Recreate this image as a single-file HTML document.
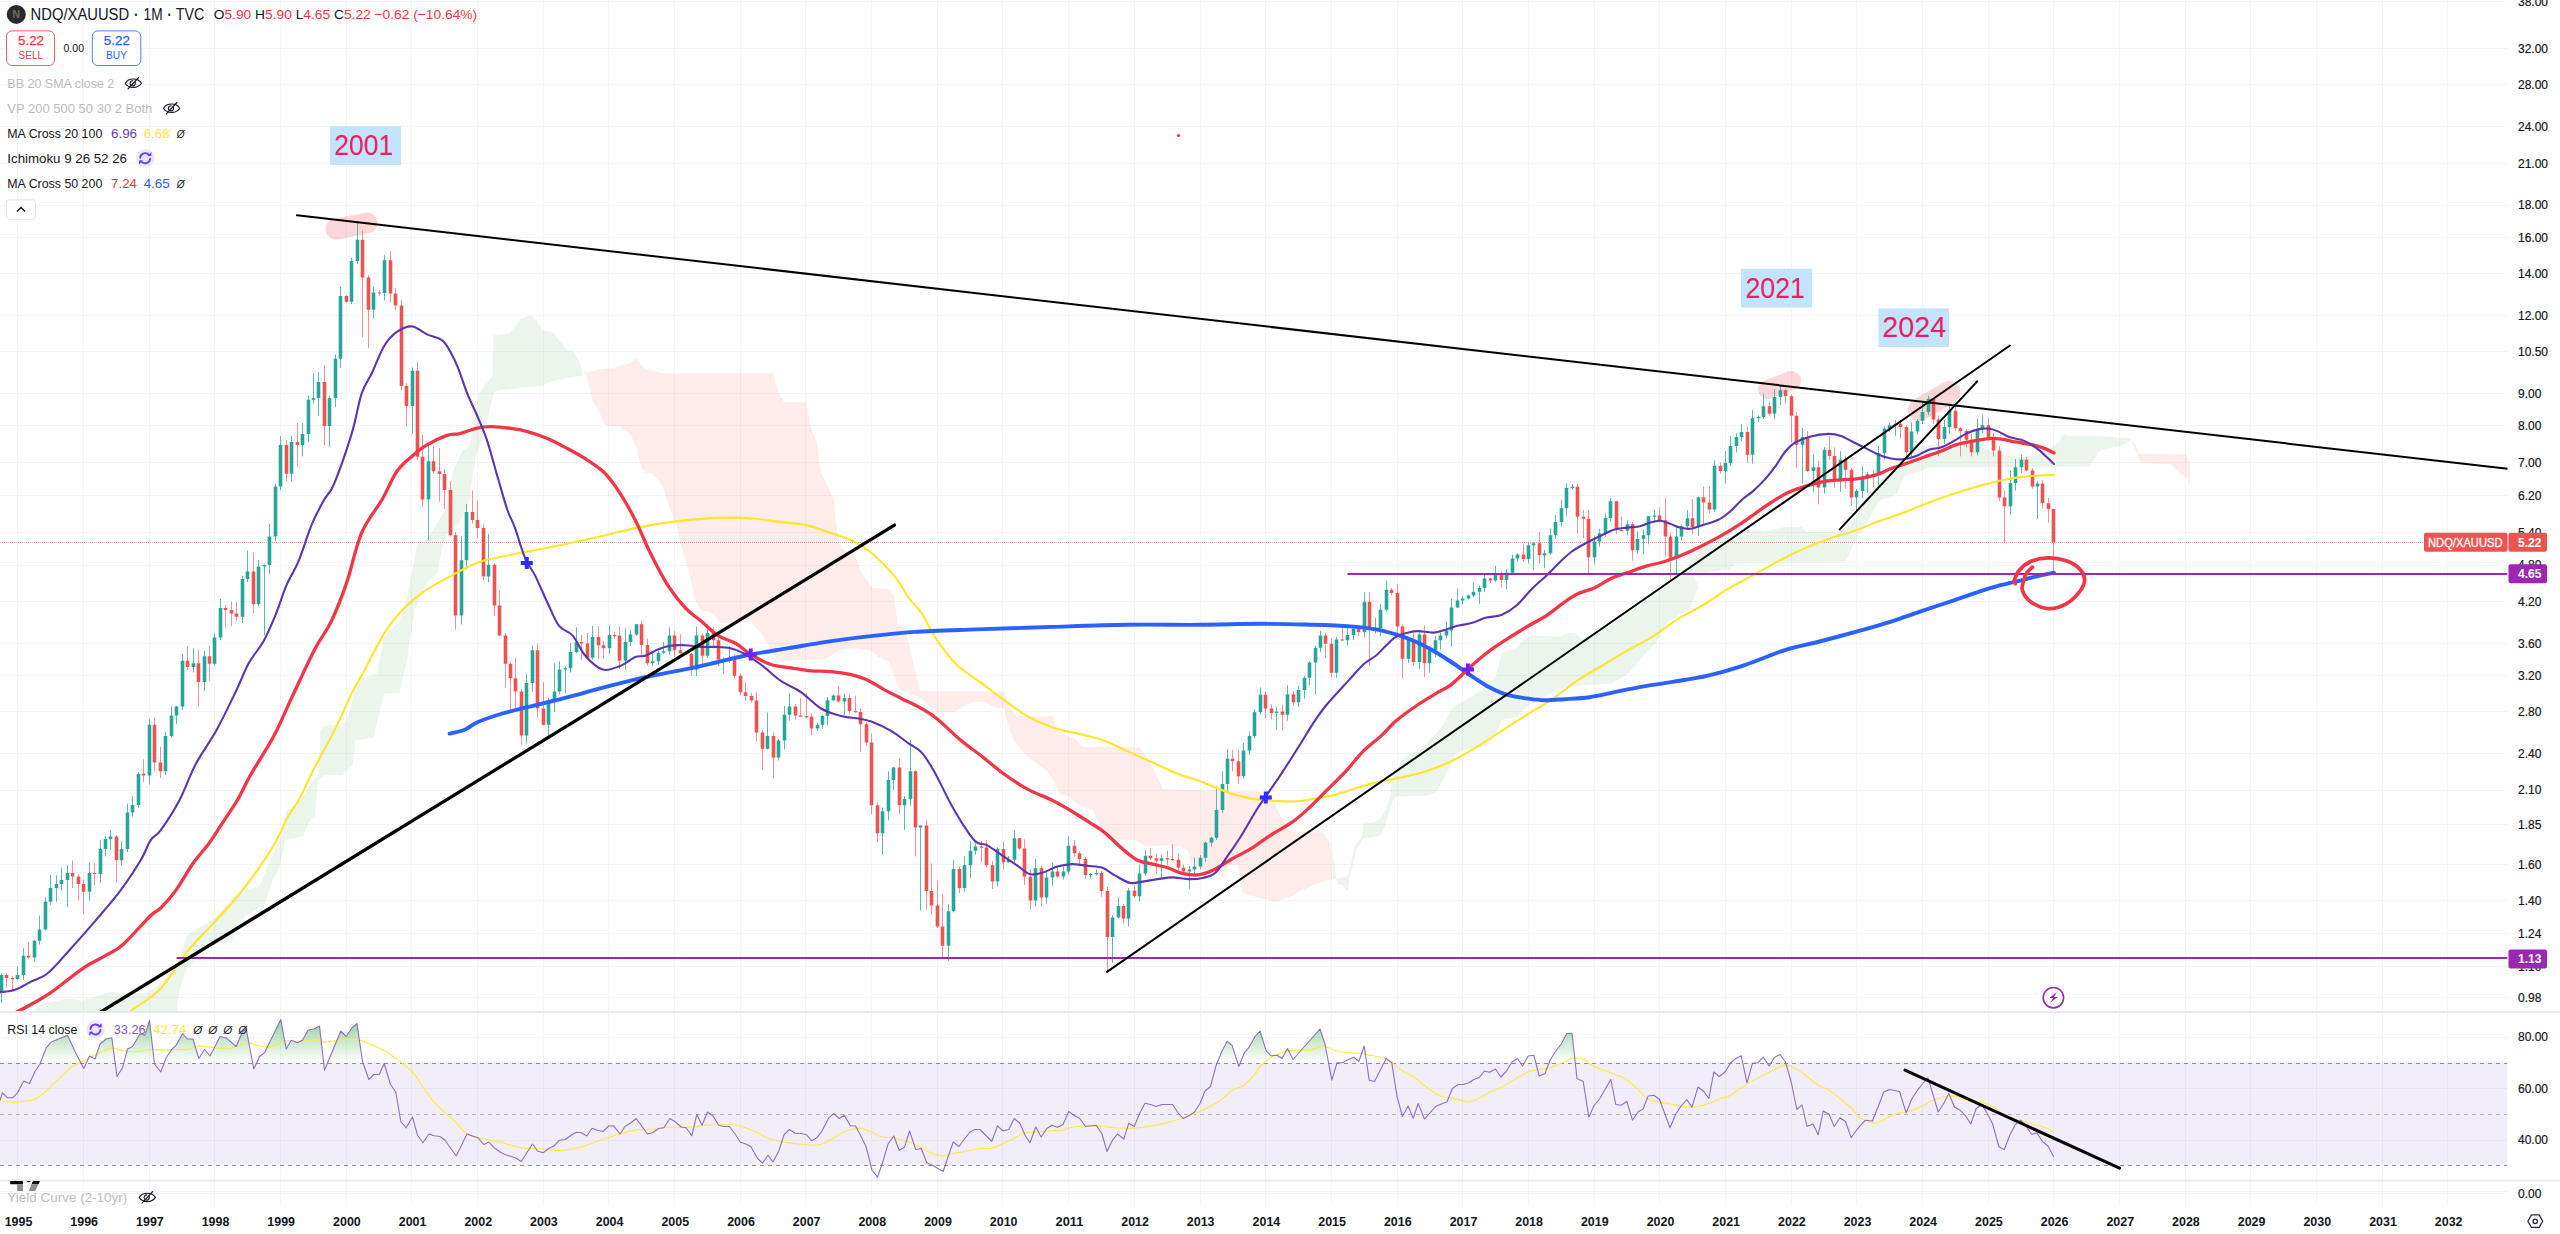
<!DOCTYPE html>
<html lang="en"><head><meta charset="utf-8"><title>NDQ/XAUUSD 1M chart</title>
<style>
html,body{margin:0;padding:0;background:#fff;}
body{width:2560px;height:1234px;overflow:hidden;position:relative;font-family:"Liberation Sans",sans-serif;}
svg{position:absolute;left:0;top:0;display:block;}
text{font-family:"Liberation Sans",sans-serif;}
.ax{font-size:12px;fill:#131722;stroke:#131722;stroke-width:0.2px;}
.tm{font-size:12.5px;fill:#131722;font-weight:bold;text-anchor:middle;}
.lg{font-size:13px;fill:#131722;}
.lgd{font-size:13px;fill:#b2b5be;}
</style></head><body>
<svg width="2560" height="1234" viewBox="0 0 2560 1234">
<defs>
<clipPath id="cpMain"><rect x="0" y="0" width="2507.5" height="1012.0"/></clipPath>
<clipPath id="cpRsi"><rect x="0" y="1012.0" width="2507.5" height="168.0"/></clipPath>
<clipPath id="cpOB"><rect x="0" y="1012.0" width="2507.5" height="50.7"/></clipPath>
<linearGradient id="gOB" gradientUnits="userSpaceOnUse" x1="0" y1="1012.0" x2="0" y2="1062.7"><stop offset="0" stop-color="#4caf50" stop-opacity="0.68"/><stop offset="1" stop-color="#4caf50" stop-opacity="0"/></linearGradient>
</defs>
<rect width="2560" height="1234" fill="#ffffff"/>
<path d="M17.5 0V1206M83.5 0V1206M149.5 0V1206M214.5 0V1206M280.5 0V1206M346.5 0V1206M411.5 0V1206M477.5 0V1206M543.5 0V1206M608.5 0V1206M674.5 0V1206M740.5 0V1206M805.5 0V1206M871.5 0V1206M937.5 0V1206M1002.5 0V1206M1068.5 0V1206M1134.5 0V1206M1200.5 0V1206M1265.5 0V1206M1331.5 0V1206M1397.5 0V1206M1462.5 0V1206M1528.5 0V1206M1594.5 0V1206M1659.5 0V1206M1725.5 0V1206M1791.5 0V1206M1856.5 0V1206M1922.5 0V1206M1988.5 0V1206M2053.5 0V1206M2119.5 0V1206M2185.5 0V1206M2250.5 0V1206M2316.5 0V1206M2382.5 0V1206M2447.5 0V1206M0 1.5H2507.5M0 48.5H2507.5M0 84.5H2507.5M0 126.5H2507.5M0 163.5H2507.5M0 205.5H2507.5M0 237.5H2507.5M0 273.5H2507.5M0 315.5H2507.5M0 351.5H2507.5M0 393.5H2507.5M0 425.5H2507.5M0 462.5H2507.5M0 495.5H2507.5M0 532.5H2507.5M0 565.5H2507.5M0 601.5H2507.5M0 643.5H2507.5M0 675.5H2507.5M0 711.5H2507.5M0 753.5H2507.5M0 790.5H2507.5M0 824.5H2507.5M0 864.5H2507.5M0 900.5H2507.5M0 933.5H2507.5M0 966.5H2507.5M0 997.5H2507.5M0 1037.5H2507.5M0 1088.5H2507.5M0 1140.5H2507.5M0 1191.5H2507.5M0 1193.5H2507.5" stroke="#f3f5f6" stroke-width="1" fill="none"/>
<g clip-path="url(#cpRsi)">
<rect x="0" y="1062.7" width="2507.5" height="102.6" fill="#7e57c2" fill-opacity="0.1"/>
<path d="M0 1063.5H2507.5" stroke="#787b86" stroke-opacity="0.85" stroke-width="1" stroke-dasharray="4 4" fill="none"/>
<path d="M0 1114.5H2507.5" stroke="#787b86" stroke-opacity="0.5" stroke-width="1" stroke-dasharray="4 4" fill="none"/>
<path d="M0 1165.5H2507.5" stroke="#787b86" stroke-opacity="0.85" stroke-width="1" stroke-dasharray="4 4" fill="none"/>
<path d="M0.0 1062.7L0.0 1100.2L2.5 1092.8L7.5 1097.8L12.5 1097.8L17.5 1092.8L23.8 1081.0L29.5 1083.5L35.0 1071.5L40.0 1064.0L46.2 1047.8L51.2 1042.0L67.5 1035.2L75.0 1051.5L83.8 1068.5L89.5 1056.0L95.0 1059.0L100.0 1044.0L106.2 1039.0L111.8 1037.8L117.0 1076.5L122.5 1067.8L127.5 1049.0L132.5 1046.5L140.0 1034.0L145.0 1035.2L149.5 1020.2L154.5 1064.0L160.8 1072.0L166.2 1057.8L171.2 1050.2L176.2 1045.2L182.5 1033.5L187.5 1039.0L193.0 1039.0L198.8 1058.5L204.5 1049.5L210.0 1056.0L215.0 1046.5L220.0 1036.5L226.2 1037.8L236.2 1046.5L242.5 1031.5L246.2 1029.0L253.8 1069.0L259.5 1056.5L264.5 1052.8L280.8 1019.5L286.2 1049.0L291.2 1040.2L297.5 1042.8L302.5 1040.2L308.0 1030.2L313.8 1029.0L319.5 1026.0L324.5 1070.2L340.8 1031.0L346.2 1036.5L352.0 1027.8L357.0 1023.5L362.5 1061.5L368.8 1079.5L373.8 1074.5L379.2 1074.5L384.2 1063.5L390.5 1084.5L395.8 1092.0L400.8 1121.5L406.2 1127.8L412.5 1117.0L417.5 1135.2L423.0 1142.8L428.8 1134.0L434.2 1135.8L440.0 1136.5L445.0 1140.2L456.2 1156.0L467.0 1134.0L472.5 1136.0L478.0 1137.8L483.8 1144.5L488.8 1142.0L494.2 1147.8L500.0 1152.0L505.0 1154.5L511.2 1156.5L516.2 1158.2L521.2 1161.5L532.5 1144.0L537.5 1151.0L543.0 1152.8L548.8 1148.5L553.8 1146.0L559.5 1140.2L565.0 1139.5L570.5 1135.8L576.2 1132.2L581.2 1132.8L586.8 1136.0L592.0 1128.2L597.5 1130.2L603.0 1131.5L608.8 1126.0L613.8 1125.8L620.0 1134.0L625.0 1126.5L630.0 1123.5L636.2 1118.5L647.5 1134.0L652.5 1132.8L658.8 1128.5L663.8 1127.8L670.0 1118.5L675.5 1122.0L681.2 1127.0L686.2 1127.8L691.8 1135.8L696.8 1114.5L702.0 1125.2L707.5 1112.0L713.0 1116.0L718.8 1125.2L723.8 1126.5L729.5 1126.5L735.0 1134.0L740.5 1142.2L745.8 1144.0L750.8 1146.5L757.5 1158.5L762.5 1163.2L768.0 1155.2L773.0 1162.0L778.8 1151.0L784.2 1134.5L789.5 1129.5L795.0 1133.2L800.5 1133.5L806.2 1134.5L811.8 1140.8L816.8 1137.8L822.0 1131.0L828.8 1117.8L833.8 1113.5L839.2 1118.5L844.2 1115.2L850.5 1125.8L855.5 1126.0L860.5 1135.2L866.2 1147.0L872.0 1170.2L877.5 1177.2L882.5 1162.8L888.0 1144.0L893.8 1136.0L899.2 1150.2L904.5 1147.2L909.5 1131.0L915.8 1149.5L921.2 1148.5L926.8 1162.8L932.5 1165.2L937.5 1168.2L943.2 1171.5L948.2 1156.5L953.2 1142.0L958.8 1146.5L964.5 1139.0L970.0 1132.0L975.0 1129.5L980.0 1129.5L991.8 1141.5L997.5 1125.8L1003.0 1131.0L1008.8 1129.5L1014.2 1118.5L1020.0 1123.5L1025.0 1135.2L1030.0 1142.8L1035.8 1127.0L1041.2 1137.0L1046.8 1128.5L1052.0 1125.2L1057.5 1127.2L1063.0 1124.5L1068.8 1111.5L1073.8 1115.2L1079.5 1118.2L1085.5 1126.5L1096.2 1125.2L1101.8 1133.5L1107.0 1151.5L1112.5 1140.2L1117.5 1134.0L1123.8 1139.0L1128.8 1123.2L1134.2 1126.5L1140.0 1112.8L1145.0 1103.2L1150.5 1104.5L1156.2 1106.5L1161.8 1104.5L1172.5 1104.5L1178.0 1112.8L1183.2 1118.5L1188.8 1115.8L1194.5 1112.0L1200.0 1103.5L1205.0 1091.0L1210.5 1086.5L1216.2 1065.2L1221.8 1051.5L1227.0 1041.5L1232.0 1045.2L1238.8 1066.5L1244.2 1053.2L1249.2 1047.0L1255.0 1036.5L1260.0 1031.0L1266.2 1050.8L1271.2 1055.8L1277.0 1055.2L1282.0 1058.5L1287.5 1048.5L1293.0 1059.5L1320.0 1029.0L1325.0 1044.0L1331.8 1080.2L1337.0 1062.8L1342.5 1062.8L1348.0 1059.8L1353.8 1057.2L1358.8 1061.5L1364.2 1046.0L1369.2 1080.2L1374.5 1081.5L1386.2 1058.5L1391.8 1062.8L1397.0 1096.5L1402.5 1116.5L1408.0 1106.0L1413.2 1118.2L1418.2 1103.5L1424.5 1119.0L1430.0 1112.8L1435.5 1106.5L1441.2 1104.0L1446.8 1102.0L1452.5 1088.5L1458.0 1084.5L1463.2 1084.5L1468.8 1082.8L1473.8 1079.5L1479.5 1077.2L1484.5 1071.0L1489.5 1072.2L1495.5 1069.0L1500.8 1077.0L1506.2 1071.5L1512.0 1062.0L1517.5 1058.5L1522.5 1066.0L1528.2 1056.0L1533.8 1055.2L1539.2 1076.0L1545.0 1073.5L1550.0 1060.2L1555.8 1051.0L1561.2 1044.0L1566.8 1033.5L1572.0 1033.2L1577.0 1078.5L1583.2 1081.5L1588.8 1117.2L1593.8 1106.0L1599.5 1099.0L1610.8 1079.5L1615.8 1104.5L1621.2 1105.2L1626.8 1101.5L1632.5 1120.2L1638.0 1112.0L1643.0 1109.0L1648.2 1096.0L1653.8 1095.2L1659.5 1099.5L1670.0 1127.8L1675.8 1114.0L1681.2 1106.0L1686.8 1099.5L1692.0 1107.2L1698.0 1087.0L1703.8 1091.5L1708.8 1098.5L1713.8 1072.0L1719.2 1076.5L1725.0 1072.0L1730.5 1063.2L1735.8 1058.5L1741.2 1055.8L1747.0 1082.8L1752.5 1063.2L1758.0 1062.8L1763.2 1057.0L1769.2 1066.0L1774.5 1057.2L1780.0 1054.5L1785.5 1062.0L1791.2 1082.0L1796.8 1109.5L1802.0 1104.8L1807.0 1126.5L1813.0 1124.0L1818.2 1134.8L1823.2 1111.0L1829.2 1114.5L1834.2 1126.5L1840.0 1117.8L1845.5 1121.5L1851.2 1137.8L1856.8 1129.8L1860.0 1125.8L1865.5 1120.2L1872.5 1121.0L1883.8 1092.0L1889.5 1089.5L1899.5 1091.5L1906.2 1112.8L1912.0 1098.5L1917.5 1090.2L1922.5 1084.0L1928.0 1077.8L1938.2 1112.0L1943.8 1103.2L1948.8 1093.5L1954.5 1107.0L1960.0 1110.2L1965.5 1115.8L1970.8 1124.0L1976.2 1108.5L1981.8 1104.5L1987.5 1114.0L1992.5 1123.5L1998.8 1146.5L2004.2 1149.8L2010.0 1134.8L2015.0 1125.2L2020.8 1120.2L2026.2 1126.5L2031.8 1134.5L2036.8 1132.8L2042.5 1141.5L2048.0 1146.0L2053.8 1157.0L2053.8 1062.7Z" fill="url(#gOB)" clip-path="url(#cpOB)"/>
<path d="M0.0 1100.2C1.2 1100.5 4.6 1101.7 7.5 1102.0C10.4 1102.3 14.6 1102.4 17.5 1102.2C20.4 1102.0 22.3 1101.4 25.0 1101.0C27.7 1100.6 30.5 1101.3 33.8 1099.8C37.1 1098.3 41.0 1095.3 45.0 1092.0C49.0 1088.7 52.9 1084.5 57.5 1080.2C62.1 1076.0 67.9 1069.8 72.5 1066.5C77.1 1063.2 80.4 1062.5 85.0 1060.2C89.6 1057.9 95.5 1054.8 100.0 1052.8C104.5 1050.8 107.6 1048.5 111.8 1048.2C116.0 1047.9 120.3 1050.5 125.0 1051.0C129.7 1051.5 135.8 1051.8 140.0 1051.5C144.2 1051.2 145.8 1049.7 150.0 1049.5C154.2 1049.3 160.8 1050.2 165.0 1050.2C169.2 1050.2 171.2 1049.6 175.0 1049.5C178.8 1049.4 183.8 1050.1 187.5 1049.5C191.2 1048.9 193.8 1046.4 197.5 1046.0C201.2 1045.6 205.2 1046.5 210.0 1047.0C214.8 1047.5 221.8 1049.1 226.2 1049.0C230.6 1048.9 232.6 1047.5 236.2 1046.5C239.8 1045.5 243.5 1042.9 247.5 1042.8C251.5 1042.7 256.2 1045.3 260.0 1046.0C263.8 1046.7 266.7 1047.4 270.0 1047.0C273.3 1046.6 276.5 1044.4 280.0 1043.5C283.5 1042.6 286.6 1042.0 291.2 1041.5C295.8 1041.0 302.9 1041.1 307.5 1040.8C312.1 1040.5 315.9 1039.6 318.8 1039.8C321.7 1040.0 321.3 1042.2 325.0 1042.2C328.7 1042.2 336.6 1040.3 340.8 1039.8C345.0 1039.3 346.8 1038.9 350.0 1039.0C353.2 1039.1 356.2 1039.2 360.0 1040.2C363.8 1041.2 368.3 1043.4 372.5 1045.2C376.7 1047.0 381.2 1048.9 385.0 1051.0C388.8 1053.1 390.4 1054.3 395.0 1057.8C399.6 1061.3 407.9 1067.2 412.5 1072.0C417.1 1076.8 419.2 1081.8 422.5 1086.5C425.8 1091.2 429.2 1096.2 432.5 1100.2C435.8 1104.2 438.8 1106.7 442.5 1110.2C446.2 1113.8 450.8 1117.5 455.0 1121.5C459.2 1125.5 462.7 1131.1 467.5 1134.0C472.3 1136.9 478.4 1137.6 483.8 1139.0C489.2 1140.4 493.8 1140.7 500.0 1142.2C506.2 1143.7 515.0 1146.8 521.2 1147.8C527.5 1148.8 532.1 1148.1 537.5 1148.5C542.9 1148.9 549.2 1149.9 553.8 1150.2C558.4 1150.5 560.2 1150.8 565.0 1150.2C569.8 1149.6 576.7 1148.2 582.5 1146.5C588.3 1144.8 593.8 1142.3 600.0 1140.2C606.2 1138.1 614.2 1135.7 620.0 1134.0C625.8 1132.3 629.6 1131.0 635.0 1130.2C640.4 1129.4 646.7 1129.5 652.5 1129.0C658.3 1128.5 663.5 1127.5 670.0 1127.2C676.5 1126.9 685.5 1127.3 691.8 1127.0C698.0 1126.7 701.2 1125.6 707.5 1125.2C713.8 1124.8 724.1 1124.4 729.5 1124.5C734.9 1124.6 735.8 1124.8 740.0 1126.0C744.2 1127.2 750.0 1129.3 755.0 1131.5C760.0 1133.7 765.1 1137.2 770.0 1139.0C774.9 1140.8 779.2 1141.4 784.2 1142.2C789.2 1143.0 795.4 1143.5 800.0 1144.0C804.6 1144.5 808.1 1145.2 811.8 1145.2C815.5 1145.2 819.0 1144.8 822.0 1144.0C825.0 1143.2 827.0 1141.9 830.0 1140.2C833.0 1138.5 836.7 1135.7 840.0 1134.0C843.3 1132.3 846.7 1130.8 850.0 1129.8C853.3 1128.8 856.7 1127.9 860.0 1128.2C863.3 1128.5 866.2 1130.0 870.0 1131.5C873.8 1133.0 878.5 1136.0 882.5 1137.0C886.5 1138.0 890.1 1137.1 893.8 1137.8C897.5 1138.5 900.8 1139.9 904.5 1141.0C908.2 1142.1 912.0 1142.8 915.8 1144.5C919.6 1146.2 923.9 1149.7 927.5 1151.5C931.1 1153.3 934.9 1154.5 937.5 1155.2C940.1 1156.0 940.6 1156.3 943.2 1156.0C945.8 1155.7 949.6 1154.2 953.2 1153.5C956.8 1152.8 960.5 1152.3 965.0 1151.5C969.5 1150.7 975.5 1149.0 980.0 1148.5C984.5 1148.0 987.0 1149.5 991.8 1148.2C996.6 1147.0 1003.3 1143.5 1008.8 1141.0C1014.3 1138.5 1019.6 1134.8 1025.0 1133.2C1030.4 1131.6 1034.9 1132.0 1041.2 1131.5C1047.5 1131.0 1058.4 1130.8 1063.0 1130.2C1067.6 1129.6 1065.0 1128.5 1068.8 1127.8C1072.5 1127.1 1080.0 1126.2 1085.5 1126.0C1091.0 1125.8 1096.5 1126.2 1101.8 1126.5C1107.1 1126.8 1112.1 1127.5 1117.5 1127.8C1122.9 1128.1 1127.8 1128.6 1134.2 1128.2C1140.7 1127.8 1149.8 1126.4 1156.2 1125.2C1162.6 1124.0 1167.1 1122.5 1172.5 1121.0C1177.9 1119.5 1183.4 1118.0 1188.8 1116.0C1194.2 1114.0 1199.8 1111.5 1205.0 1109.0C1210.2 1106.5 1215.5 1103.9 1220.0 1100.8C1224.5 1097.7 1228.0 1092.8 1232.0 1090.2C1236.0 1087.6 1240.4 1087.9 1244.2 1085.2C1248.0 1082.5 1252.4 1077.1 1255.0 1074.0C1257.6 1070.9 1257.3 1069.3 1260.0 1066.5C1262.7 1063.7 1267.5 1059.5 1271.2 1057.2C1274.9 1054.9 1279.3 1053.9 1282.0 1052.8C1284.7 1051.7 1284.9 1051.2 1287.5 1050.8C1290.1 1050.4 1293.8 1050.3 1297.5 1050.2C1301.2 1050.1 1306.2 1050.7 1310.0 1050.2C1313.8 1049.7 1317.5 1047.6 1320.0 1047.0C1322.5 1046.4 1321.7 1045.7 1325.0 1046.5C1328.3 1047.3 1334.4 1050.9 1340.0 1052.0C1345.6 1053.1 1353.9 1052.7 1358.8 1053.2C1363.7 1053.7 1364.6 1054.2 1369.2 1055.2C1373.8 1056.2 1380.7 1056.4 1386.2 1059.0C1391.8 1061.6 1398.0 1068.1 1402.5 1071.0C1407.0 1073.9 1409.5 1074.0 1413.2 1076.5C1417.0 1079.0 1420.5 1082.8 1425.0 1086.0C1429.5 1089.2 1435.4 1093.8 1440.0 1095.8C1444.6 1097.8 1447.7 1096.8 1452.5 1097.8C1457.3 1098.8 1464.2 1102.0 1468.8 1102.0C1473.4 1102.0 1476.5 1099.5 1480.0 1097.8C1483.5 1096.1 1486.5 1093.7 1490.0 1092.0C1493.5 1090.3 1497.1 1089.6 1500.8 1087.8C1504.5 1086.0 1507.4 1083.6 1512.0 1081.0C1516.6 1078.4 1523.7 1073.9 1528.2 1072.0C1532.7 1070.1 1535.6 1070.2 1539.2 1069.5C1542.8 1068.8 1546.3 1068.8 1550.0 1067.8C1553.7 1066.8 1557.5 1064.8 1561.2 1063.2C1564.9 1061.7 1568.3 1059.2 1572.0 1058.5C1575.7 1057.8 1579.6 1057.7 1583.2 1059.0C1586.8 1060.3 1589.2 1064.2 1593.8 1066.5C1598.4 1068.8 1605.6 1070.8 1610.8 1072.8C1616.0 1074.8 1620.5 1075.8 1625.0 1078.5C1629.5 1081.2 1633.6 1085.6 1637.5 1089.0C1641.4 1092.4 1644.5 1096.8 1648.2 1099.0C1652.0 1101.2 1655.4 1101.2 1660.0 1102.2C1664.6 1103.2 1670.8 1104.0 1675.8 1104.8C1680.8 1105.6 1685.3 1107.1 1690.0 1107.2C1694.7 1107.3 1698.9 1106.6 1703.8 1105.2C1708.7 1103.8 1714.8 1100.7 1719.2 1099.0C1723.7 1097.3 1726.8 1097.1 1730.5 1095.2C1734.2 1093.3 1736.6 1090.7 1741.2 1087.8C1745.8 1084.9 1752.5 1080.8 1758.0 1077.8C1763.5 1074.8 1769.9 1071.7 1774.5 1069.5C1779.1 1067.3 1781.8 1064.8 1785.5 1064.8C1789.2 1064.8 1793.2 1067.5 1796.8 1069.5C1800.4 1071.5 1803.4 1073.9 1807.0 1076.5C1810.6 1079.1 1814.5 1082.9 1818.2 1085.2C1821.9 1087.5 1825.6 1088.0 1829.2 1090.2C1832.8 1092.4 1836.3 1095.6 1840.0 1098.5C1843.7 1101.4 1847.9 1104.6 1851.2 1107.8C1854.5 1111.0 1856.9 1115.4 1860.0 1117.8C1863.1 1120.2 1867.1 1121.4 1870.0 1122.2C1872.9 1123.0 1873.3 1124.2 1877.5 1122.8C1881.7 1121.4 1890.2 1115.8 1895.0 1114.0C1899.8 1112.2 1901.6 1113.3 1906.2 1112.0C1910.8 1110.7 1918.1 1108.0 1922.5 1106.0C1926.9 1104.0 1928.1 1101.9 1932.5 1100.2C1936.9 1098.5 1944.2 1096.5 1948.8 1096.0C1953.4 1095.5 1956.3 1096.3 1960.0 1097.2C1963.7 1098.1 1967.2 1100.7 1970.8 1101.5C1974.4 1102.3 1978.2 1101.2 1981.8 1102.0C1985.4 1102.8 1988.8 1104.3 1992.5 1106.5C1996.2 1108.7 2000.5 1113.1 2004.2 1115.2C2008.0 1117.3 2011.3 1117.9 2015.0 1119.0C2018.7 1120.1 2022.6 1121.0 2026.2 1122.0C2029.8 1123.0 2033.2 1124.1 2036.8 1125.2C2040.4 1126.3 2045.2 1127.2 2048.0 1128.5C2050.8 1129.8 2052.8 1132.1 2053.8 1132.8" stroke="#ffe94a" stroke-width="1.2" fill="none" stroke-linejoin="round"/>
<path d="M0.0 1100.2L2.5 1092.8L7.5 1097.8L12.5 1097.8L17.5 1092.8L23.8 1081.0L29.5 1083.5L35.0 1071.5L40.0 1064.0L46.2 1047.8L51.2 1042.0L67.5 1035.2L75.0 1051.5L83.8 1068.5L89.5 1056.0L95.0 1059.0L100.0 1044.0L106.2 1039.0L111.8 1037.8L117.0 1076.5L122.5 1067.8L127.5 1049.0L132.5 1046.5L140.0 1034.0L145.0 1035.2L149.5 1020.2L154.5 1064.0L160.8 1072.0L166.2 1057.8L171.2 1050.2L176.2 1045.2L182.5 1033.5L187.5 1039.0L193.0 1039.0L198.8 1058.5L204.5 1049.5L210.0 1056.0L215.0 1046.5L220.0 1036.5L226.2 1037.8L236.2 1046.5L242.5 1031.5L246.2 1029.0L253.8 1069.0L259.5 1056.5L264.5 1052.8L280.8 1019.5L286.2 1049.0L291.2 1040.2L297.5 1042.8L302.5 1040.2L308.0 1030.2L313.8 1029.0L319.5 1026.0L324.5 1070.2L340.8 1031.0L346.2 1036.5L352.0 1027.8L357.0 1023.5L362.5 1061.5L368.8 1079.5L373.8 1074.5L379.2 1074.5L384.2 1063.5L390.5 1084.5L395.8 1092.0L400.8 1121.5L406.2 1127.8L412.5 1117.0L417.5 1135.2L423.0 1142.8L428.8 1134.0L434.2 1135.8L440.0 1136.5L445.0 1140.2L456.2 1156.0L467.0 1134.0L472.5 1136.0L478.0 1137.8L483.8 1144.5L488.8 1142.0L494.2 1147.8L500.0 1152.0L505.0 1154.5L511.2 1156.5L516.2 1158.2L521.2 1161.5L532.5 1144.0L537.5 1151.0L543.0 1152.8L548.8 1148.5L553.8 1146.0L559.5 1140.2L565.0 1139.5L570.5 1135.8L576.2 1132.2L581.2 1132.8L586.8 1136.0L592.0 1128.2L597.5 1130.2L603.0 1131.5L608.8 1126.0L613.8 1125.8L620.0 1134.0L625.0 1126.5L630.0 1123.5L636.2 1118.5L647.5 1134.0L652.5 1132.8L658.8 1128.5L663.8 1127.8L670.0 1118.5L675.5 1122.0L681.2 1127.0L686.2 1127.8L691.8 1135.8L696.8 1114.5L702.0 1125.2L707.5 1112.0L713.0 1116.0L718.8 1125.2L723.8 1126.5L729.5 1126.5L735.0 1134.0L740.5 1142.2L745.8 1144.0L750.8 1146.5L757.5 1158.5L762.5 1163.2L768.0 1155.2L773.0 1162.0L778.8 1151.0L784.2 1134.5L789.5 1129.5L795.0 1133.2L800.5 1133.5L806.2 1134.5L811.8 1140.8L816.8 1137.8L822.0 1131.0L828.8 1117.8L833.8 1113.5L839.2 1118.5L844.2 1115.2L850.5 1125.8L855.5 1126.0L860.5 1135.2L866.2 1147.0L872.0 1170.2L877.5 1177.2L882.5 1162.8L888.0 1144.0L893.8 1136.0L899.2 1150.2L904.5 1147.2L909.5 1131.0L915.8 1149.5L921.2 1148.5L926.8 1162.8L932.5 1165.2L937.5 1168.2L943.2 1171.5L948.2 1156.5L953.2 1142.0L958.8 1146.5L964.5 1139.0L970.0 1132.0L975.0 1129.5L980.0 1129.5L991.8 1141.5L997.5 1125.8L1003.0 1131.0L1008.8 1129.5L1014.2 1118.5L1020.0 1123.5L1025.0 1135.2L1030.0 1142.8L1035.8 1127.0L1041.2 1137.0L1046.8 1128.5L1052.0 1125.2L1057.5 1127.2L1063.0 1124.5L1068.8 1111.5L1073.8 1115.2L1079.5 1118.2L1085.5 1126.5L1096.2 1125.2L1101.8 1133.5L1107.0 1151.5L1112.5 1140.2L1117.5 1134.0L1123.8 1139.0L1128.8 1123.2L1134.2 1126.5L1140.0 1112.8L1145.0 1103.2L1150.5 1104.5L1156.2 1106.5L1161.8 1104.5L1172.5 1104.5L1178.0 1112.8L1183.2 1118.5L1188.8 1115.8L1194.5 1112.0L1200.0 1103.5L1205.0 1091.0L1210.5 1086.5L1216.2 1065.2L1221.8 1051.5L1227.0 1041.5L1232.0 1045.2L1238.8 1066.5L1244.2 1053.2L1249.2 1047.0L1255.0 1036.5L1260.0 1031.0L1266.2 1050.8L1271.2 1055.8L1277.0 1055.2L1282.0 1058.5L1287.5 1048.5L1293.0 1059.5L1320.0 1029.0L1325.0 1044.0L1331.8 1080.2L1337.0 1062.8L1342.5 1062.8L1348.0 1059.8L1353.8 1057.2L1358.8 1061.5L1364.2 1046.0L1369.2 1080.2L1374.5 1081.5L1386.2 1058.5L1391.8 1062.8L1397.0 1096.5L1402.5 1116.5L1408.0 1106.0L1413.2 1118.2L1418.2 1103.5L1424.5 1119.0L1430.0 1112.8L1435.5 1106.5L1441.2 1104.0L1446.8 1102.0L1452.5 1088.5L1458.0 1084.5L1463.2 1084.5L1468.8 1082.8L1473.8 1079.5L1479.5 1077.2L1484.5 1071.0L1489.5 1072.2L1495.5 1069.0L1500.8 1077.0L1506.2 1071.5L1512.0 1062.0L1517.5 1058.5L1522.5 1066.0L1528.2 1056.0L1533.8 1055.2L1539.2 1076.0L1545.0 1073.5L1550.0 1060.2L1555.8 1051.0L1561.2 1044.0L1566.8 1033.5L1572.0 1033.2L1577.0 1078.5L1583.2 1081.5L1588.8 1117.2L1593.8 1106.0L1599.5 1099.0L1610.8 1079.5L1615.8 1104.5L1621.2 1105.2L1626.8 1101.5L1632.5 1120.2L1638.0 1112.0L1643.0 1109.0L1648.2 1096.0L1653.8 1095.2L1659.5 1099.5L1670.0 1127.8L1675.8 1114.0L1681.2 1106.0L1686.8 1099.5L1692.0 1107.2L1698.0 1087.0L1703.8 1091.5L1708.8 1098.5L1713.8 1072.0L1719.2 1076.5L1725.0 1072.0L1730.5 1063.2L1735.8 1058.5L1741.2 1055.8L1747.0 1082.8L1752.5 1063.2L1758.0 1062.8L1763.2 1057.0L1769.2 1066.0L1774.5 1057.2L1780.0 1054.5L1785.5 1062.0L1791.2 1082.0L1796.8 1109.5L1802.0 1104.8L1807.0 1126.5L1813.0 1124.0L1818.2 1134.8L1823.2 1111.0L1829.2 1114.5L1834.2 1126.5L1840.0 1117.8L1845.5 1121.5L1851.2 1137.8L1856.8 1129.8L1860.0 1125.8L1865.5 1120.2L1872.5 1121.0L1883.8 1092.0L1889.5 1089.5L1899.5 1091.5L1906.2 1112.8L1912.0 1098.5L1917.5 1090.2L1922.5 1084.0L1928.0 1077.8L1938.2 1112.0L1943.8 1103.2L1948.8 1093.5L1954.5 1107.0L1960.0 1110.2L1965.5 1115.8L1970.8 1124.0L1976.2 1108.5L1981.8 1104.5L1987.5 1114.0L1992.5 1123.5L1998.8 1146.5L2004.2 1149.8L2010.0 1134.8L2015.0 1125.2L2020.8 1120.2L2026.2 1126.5L2031.8 1134.5L2036.8 1132.8L2042.5 1141.5L2048.0 1146.0L2053.8 1157.0" stroke="#7e57c2" stroke-opacity="0.85" stroke-width="1.1" fill="none" stroke-linejoin="round"/>
<path d="M1905 1070.2L2119.5 1168.2" stroke="#000" stroke-width="3.1" stroke-linecap="round"/>
</g>
<g clip-path="url(#cpMain)">
<path d="M32.4 1013.0L41.5 1003.4L51.9 1002.1L67.4 998.2L83.0 1000.8L98.5 995.6L111.5 991.8L124.5 993.0L145.2 993.0L155.6 987.9L168.6 974.9L178.9 959.3L186.7 936.0L202.3 925.6L215.2 917.8L233.4 897.1L246.4 889.3L259.3 886.7L269.7 860.8L280.1 840.0L285.3 811.5L298.2 803.7L311.2 783.0L319.0 772.6L320.3 731.1L324.2 725.9L344.9 723.3L350.1 710.4L354.2 690.9L361.7 678.3L376.8 673.3L384.3 636.9L399.4 620.6L406.9 598.0L412.0 572.8L417.0 545.2L427.0 538.9L442.1 515.1L449.6 500.0L452.1 473.8L462.2 451.2L469.7 446.2L474.8 421.0L478.5 393.4L492.3 375.8L493.6 335.6L509.9 333.1L520.0 319.3L530.0 315.0L535.0 318.1L542.6 330.6L552.6 331.9L567.7 350.7L572.7 350.7L580.3 363.3L582.8 375.8L582.8 375.8L572.7 377.1L552.6 380.9L540.1 385.9L527.5 387.2L502.4 389.7L493.6 392.2L488.6 416.0L482.3 441.1L477.3 451.2L472.2 476.3L469.7 500.0L459.7 522.6L444.6 537.7L437.1 572.8L427.0 582.9L414.5 610.5L406.9 660.8L399.4 693.4L384.3 693.4L378.6 715.6L373.4 737.6L355.3 740.2L352.7 764.8L342.3 775.2L324.2 775.2L317.7 780.4L315.1 816.7L308.6 821.9L303.4 836.2L285.3 840.0L280.1 866.0L272.3 881.5L264.5 904.9L246.4 915.2L236.0 928.2L230.8 942.5L207.5 943.8L197.1 959.3L186.7 967.1L178.9 993.0L176.3 1013.0Z" fill="#43a047" fill-opacity="0.1"/>
<path d="M582.8 373.3L602.9 368.8L615.1 368.3L620.1 365.8L630.1 363.3L636.4 358.2L641.4 365.8L646.5 369.6L652.8 370.3L661.5 373.3L773.3 373.3L778.3 392.2L784.1 402.2L806.5 402.2L811.0 428.6L816.5 441.1L821.0 472.5L833.6 498.9L837.4 532.7L841.1 547.7L856.2 557.8L861.2 572.8L872.5 587.9L888.9 589.2L893.9 595.5L897.7 624.3L905.2 628.1L909.0 645.7L920.3 690.9L1004.4 691.4L1008.2 706.0L1017.0 716.0L1052.1 716.5L1057.2 731.1L1074.8 738.6L1082.3 746.7L1140.1 747.4L1152.6 766.3L1162.7 788.9L1200.0 790.2L1257.8 791.4L1272.8 800.2L1285.4 825.4L1290.4 831.6L1323.1 832.4L1330.6 842.9L1331.9 879.4L1331.9 879.4L1325.6 880.6L1313.0 885.6L1300.5 890.7L1292.9 895.7L1275.4 902.0L1260.3 898.2L1242.7 893.2L1237.7 864.3L1227.6 865.5L1222.6 876.9L1202.9 869.1L1190.3 862.8L1187.8 850.2L1180.3 846.5L1167.7 845.2L1145.1 846.5L1135.0 840.2L1112.4 838.9L1102.4 832.7L1097.4 820.1L1092.3 808.8L1084.8 807.7L1077.3 804.0L1069.7 796.4L1059.7 793.9L1052.1 778.8L1047.1 771.3L1027.0 756.2L1014.5 741.1L1008.2 726.1L1004.4 708.5L994.4 707.2L984.3 702.2L974.3 701.5L964.2 706.0L954.2 712.3L936.6 712.3L921.5 698.4L898.9 688.4L888.9 662.0L878.8 657.0L871.3 650.7L853.7 648.2L841.1 649.5L826.1 658.8L806.0 660.0L778.3 660.8L765.8 640.7L760.8 633.1L750.7 621.8L720.6 623.1L710.5 611.8L700.5 610.5L695.5 600.5L687.9 567.8L680.4 542.7L677.9 530.1L666.6 500.0L664.1 490.1L659.0 481.3L652.8 473.8L645.2 472.5L641.4 467.5L636.4 447.4L630.1 433.6L623.9 430.6L620.1 426.6L608.8 426.1L603.8 423.6L600.0 413.5L592.8 401.0L586.5 375.8Z" fill="#f44336" fill-opacity="0.1"/>
<path d="M1331.5 842.9L1332.4 879.3L1335.9 879.3L1347.2 876.2L1351.0 864.3L1354.1 846.7L1362.3 836.6L1363.5 824.1L1373.6 822.2L1381.1 817.8L1386.1 809.0L1389.9 796.4L1392.4 780.1L1398.7 765.0L1402.5 760.0L1409.3 754.0L1421.6 749.4L1433.9 735.5L1443.2 724.7L1452.4 707.8L1461.6 701.7L1470.9 697.0L1483.2 689.3L1495.5 677.0L1501.7 652.4L1517.0 647.8L1523.2 640.1L1532.4 635.5L1560.1 636.4L1569.4 632.4L1575.5 633.3L1581.7 638.5L1600.0 632.0L1650.0 598.0L1683.3 574.0L1694.5 554.6L1704.2 544.8L1721.7 539.0L1756.7 529.3L1764.5 531.2L1784.0 527.3L1801.5 526.9L1807.3 532.2L1836.5 532.2L1842.3 529.3L1854.0 519.5L1863.7 500.1L1873.5 488.4L1885.1 476.7L1896.8 468.9L1912.4 451.4L1926.0 444.6L1939.6 445.6L1960.0 442.0L1975.0 445.0L1992.0 451.0L2000.6 455.0L2021.7 457.0L2038.6 454.4L2047.0 449.6L2053.8 445.7L2059.4 440.8L2064.3 434.3L2068.4 435.9L2088.6 435.9L2104.8 435.9L2121.0 438.0L2129.5 438.0L2131.4 440.1L2131.4 440.1L2122.9 445.3L2101.9 449.6L2097.6 453.8L2093.4 461.2L2087.1 466.4L1996.4 467.1L1928.9 467.5L1918.3 471.7L1903.6 475.9L1897.3 492.8L1888.8 498.1L1882.5 499.1L1876.2 505.5L1865.6 526.6L1857.2 537.1L1848.7 556.1L1844.5 562.8L1734.8 563.5L1730.6 568.7L1692.7 575.1L1698.7 586.2L1689.5 609.3L1667.9 621.6L1655.6 643.2L1643.3 655.5L1627.9 673.9L1612.5 683.2L1590.9 684.7L1563.2 687.8L1529.4 704.7L1517.0 717.0L1501.7 720.1L1495.5 735.5L1486.3 746.3L1464.7 749.4L1455.5 754.0L1451.5 763.8L1443.9 778.8L1436.4 791.4L1428.8 795.8L1396.2 796.4L1392.4 801.5L1389.9 810.3L1384.9 826.6L1379.8 836.0L1363.5 838.5L1356.0 850.5L1352.8 864.3L1349.1 880.6L1347.8 891.3L1342.2 885.0L1337.1 884.4Z" fill="#43a047" fill-opacity="0.1"/>
<path d="M2131.4 440.1L2135.6 445.3L2139.8 453.8L2186.2 454.4L2190.4 463.3L2190.4 486.5L2190.4 486.5L2186.2 477.0L2177.8 471.7L2171.5 464.3L2140.9 463.3L2137.7 454.8Z" fill="#f44336" fill-opacity="0.1"/>
<path d="M0 542.5H2507.5" stroke="#f23645" stroke-opacity="0.5" stroke-width="1" stroke-dasharray="1 1" fill="none"/>
<path d="M336 229L367 223" stroke="#f23645" stroke-opacity="0.2" stroke-width="21" stroke-linecap="round" fill="none"/>
<path d="M1767.5 389.5L1791.5 380.5" stroke="#f23645" stroke-opacity="0.2" stroke-width="19" stroke-linecap="round" fill="none"/>
<path d="M1919.5 409.5L1949 392.5" stroke="#f23645" stroke-opacity="0.2" stroke-width="23" stroke-linecap="round" fill="none"/>
<path d="M1.5 973.5V1003.0M17.5 966.6V979.9M23.5 948.2V979.8M34.5 940.1V961.6M39.5 915.6V944.5M45.5 897.4V930.3M50.5 875.1V904.8M56.5 875.1V901.8M61.5 867.4V890.8M67.5 865.2V907.3M89.5 861.9V900.7M100.5 840.0V883.0M105.5 835.6V856.4M110.5 830.2V850.3M121.5 841.2V865.5M127.5 803.6V852.1M132.5 796.3V816.7M138.5 772.4V807.8M149.5 719.1V784.5M165.5 731.8V775.1M171.5 706.2V737.2M176.5 705.8V724.1M182.5 653.6V710.0M193.5 648.4V672.3M204.5 651.0V691.1M214.5 633.6V665.3M220.5 599.0V640.1M242.5 576.1V623.3M247.5 550.6V582.1M258.5 560.2V606.0M264.5 564.2V635.4M269.5 523.9V574.0M275.5 483.6V540.8M280.5 435.9V490.2M291.5 435.8V481.7M302.5 422.8V456.5M308.5 395.4V442.2M313.5 373.3V403.7M318.5 372.0V416.0M329.5 395.4V446.9M335.5 354.5V407.0M340.5 287.0V367.8M351.5 257.8V304.2M357.5 222.0V264.2M373.5 286.6V318.8M384.5 254.8V300.5M412.5 367.5V433.9M428.5 444.8V540.3M461.5 535.8V624.5M466.5 503.9V569.3M488.5 533.9V582.1M526.5 673.9V743.2M532.5 645.6V691.9M548.5 698.0V736.7M554.5 662.8V712.1M559.5 661.5V694.2M565.5 666.5V693.2M570.5 643.0V672.6M576.5 627.3V653.5M592.5 626.0V659.6M609.5 625.2V654.2M625.5 628.3V669.8M630.5 629.5V646.4M636.5 623.9V635.9M652.5 651.2V665.7M658.5 650.6V664.6M663.5 642.1V653.9M669.5 627.4V654.6M696.5 626.7V676.0M707.5 624.1V657.5M723.5 657.4V674.0M729.5 646.0V663.0M767.5 712.6V749.4M778.5 739.0V760.5M784.5 706.1V749.6M789.5 693.2V720.7M817.5 722.8V730.8M822.5 715.2V728.6M827.5 697.4V725.0M833.5 694.4V700.7M844.5 693.8V715.2M882.5 807.5V854.8M888.5 771.1V820.3M893.5 766.8V789.9M904.5 796.0V829.8M910.5 740.0V805.9M920.5 825.3V910.5M948.5 904.3V960.8M953.5 860.1V912.5M964.5 856.3V891.6M970.5 841.0V878.1M975.5 843.4V854.7M997.5 847.4V886.4M1008.5 856.0V863.1M1014.5 830.1V862.6M1035.5 859.1V906.4M1046.5 872.5V903.6M1052.5 862.5V885.9M1063.5 866.8V879.6M1068.5 836.2V874.6M1090.5 872.7V878.2M1096.5 869.6V875.4M1112.5 915.4V962.8M1118.5 897.5V918.3M1128.5 888.0V926.7M1139.5 864.6V901.3M1145.5 850.2V875.1M1161.5 854.8V878.7M1189.5 866.0V888.8M1194.5 857.4V873.0M1200.5 855.1V869.3M1205.5 841.4V862.0M1211.5 836.6V846.5M1216.5 786.4V839.8M1222.5 771.3V813.1M1227.5 748.8V793.3M1243.5 742.7V778.8M1249.5 731.5V755.1M1254.5 709.1V738.3M1260.5 687.4V714.9M1276.5 707.1V729.9M1287.5 685.2V720.8M1298.5 685.7V707.1M1304.5 675.9V698.7M1309.5 661.4V685.4M1315.5 645.4V694.3M1320.5 630.9V652.1M1336.5 636.9V677.7M1347.5 624.3V645.6M1353.5 626.8V639.9M1364.5 592.5V637.2M1375.5 617.6V633.4M1380.5 603.8V636.4M1386.5 580.7V611.2M1408.5 638.7V662.8M1419.5 632.1V669.0M1429.5 646.2V672.9M1435.5 636.0V657.4M1440.5 632.2V649.5M1446.5 621.5V638.3M1451.5 598.8V646.2M1457.5 588.6V608.1M1462.5 596.4V604.3M1468.5 594.6V599.2M1473.5 582.6V597.0M1479.5 585.5V603.9M1484.5 574.9V591.7M1495.5 565.8V582.0M1506.5 569.5V589.1M1512.5 554.4V574.9M1517.5 553.2V561.6M1528.5 542.5V563.3M1533.5 541.8V570.4M1544.5 549.9V567.9M1550.5 528.4V554.2M1555.5 515.2V538.9M1561.5 500.2V526.6M1566.5 483.3V516.5M1572.5 484.1V489.6M1594.5 535.5V564.7M1599.5 528.9V546.8M1605.5 513.5V536.9M1610.5 498.4V521.6M1627.5 520.2V535.2M1637.5 531.5V553.7M1643.5 529.9V554.1M1648.5 516.0V544.2M1654.5 509.4V523.0M1676.5 527.4V575.0M1681.5 524.6V540.5M1687.5 510.2V528.3M1698.5 496.5V536.0M1714.5 460.4V512.1M1725.5 451.0V483.5M1730.5 435.9V466.0M1736.5 433.3V452.4M1741.5 424.2V441.1M1752.5 410.1V463.7M1758.5 415.6V421.7M1763.5 394.0V418.9M1774.5 389.3V419.3M1780.5 385.2V405.1M1802.5 427.7V483.5M1813.5 454.4V492.3M1824.5 446.9V493.5M1840.5 451.1V491.9M1856.5 488.9V510.8M1862.5 466.0V497.9M1867.5 471.6V492.7M1878.5 445.6V489.4M1884.5 426.4V459.4M1889.5 422.3V432.1M1895.5 419.9V435.9M1911.5 422.3V456.8M1917.5 419.1V434.6M1922.5 402.4V424.2M1928.5 395.5V415.2M1944.5 419.9V444.0M1949.5 405.3V434.2M1977.5 418.4V455.5M1982.5 415.1V433.0M2010.5 470.6V514.7M2015.5 459.0V490.6M2021.5 454.6V473.1M2037.5 481.2V519.0" stroke="#26a69a" stroke-opacity="0.75" stroke-width="1" fill="none"/>
<path d="M6.5 973.1V987.2M12.5 976.3V991.4M28.5 941.8V959.3M72.5 860.5V888.0M78.5 873.9V900.4M83.5 879.8V914.2M94.5 862.4V885.3M116.5 835.2V882.5M143.5 759.4V782.0M154.5 717.3V771.3M160.5 746.7V777.9M187.5 646.6V670.0M198.5 649.7V707.0M209.5 645.8V680.8M225.5 604.9V627.7M231.5 601.7V626.4M236.5 601.7V620.9M253.5 552.5V613.2M286.5 440.1V481.7M297.5 422.8V466.9M324.5 365.0V445.0M346.5 295.1V303.0M362.5 230.7V337.0M368.5 275.3V348.0M379.5 290.3V295.8M390.5 251.3V302.4M395.5 287.7V310.3M401.5 300.0V390.0M406.5 383.2V426.7M417.5 361.8V460.0M422.5 434.5V507.0M433.5 446.0V474.0M439.5 448.0V501.9M444.5 468.8V509.0M450.5 481.1V536.5M455.5 532.0V629.9M472.5 490.4V523.6M477.5 500.7V538.4M483.5 524.4V580.2M494.5 562.8V616.2M499.5 590.2V636.4M505.5 633.0V687.5M510.5 661.3V710.8M515.5 657.6V712.1M521.5 688.7V744.6M537.5 643.4V717.5M543.5 682.3V725.3M581.5 635.0V660.2M587.5 633.0V659.4M598.5 626.0V659.0M603.5 640.9V659.0M614.5 631.8V638.3M619.5 626.6V668.8M641.5 620.8V656.3M647.5 638.6V665.5M674.5 631.2V657.0M680.5 634.3V654.2M685.5 651.8V654.2M691.5 652.9V675.9M702.5 632.9V664.5M713.5 626.8V648.6M718.5 636.0V666.2M734.5 653.6V678.0M740.5 673.8V695.1M745.5 682.3V701.0M751.5 693.0V702.6M756.5 691.5V741.4M762.5 729.7V770.0M773.5 732.7V778.8M795.5 704.0V719.7M800.5 698.4V716.2M806.5 693.2V718.3M811.5 713.3V735.3M838.5 686.2V702.7M849.5 694.7V713.3M855.5 695.8V713.0M860.5 707.9V752.0M866.5 722.6V745.6M871.5 733.4V814.3M877.5 802.3V842.2M899.5 758.5V814.2M915.5 769.8V856.5M926.5 820.2V909.7M931.5 863.5V914.4M937.5 880.7V928.0M942.5 894.1V957.0M959.5 866.3V893.1M981.5 841.0V862.5M986.5 839.8V867.1M992.5 861.0V889.0M1003.5 841.4V869.4M1019.5 838.0V850.3M1024.5 839.5V885.1M1030.5 868.7V909.5M1041.5 866.3V906.5M1057.5 866.6V878.0M1074.5 840.0V856.8M1079.5 851.2V865.4M1085.5 856.8V878.3M1101.5 870.6V896.7M1107.5 887.0V970.8M1123.5 903.9V923.6M1134.5 885.4V898.0M1150.5 847.9V860.0M1156.5 854.1V873.8M1167.5 850.5V865.5M1172.5 844.2V860.6M1178.5 853.0V872.7M1183.5 864.6V874.8M1232.5 749.8V771.4M1238.5 749.8V783.9M1265.5 691.7V718.2M1271.5 704.2V719.5M1282.5 704.7V730.6M1293.5 690.8V705.6M1325.5 632.8V658.0M1331.5 638.4V677.5M1342.5 626.9V641.0M1358.5 627.6V635.9M1369.5 592.7V665.8M1391.5 588.2V595.3M1397.5 583.9V634.3M1402.5 624.6V678.3M1413.5 630.6V665.5M1424.5 625.4V677.3M1490.5 577.9V583.0M1501.5 571.5V587.3M1523.5 543.7V561.6M1539.5 532.1V564.0M1577.5 484.0V534.0M1583.5 510.0V538.0M1588.5 509.7V573.6M1616.5 500.9V533.9M1621.5 516.5V530.9M1632.5 521.9V560.6M1659.5 507.5V522.4M1665.5 498.1V556.5M1670.5 532.7V580.8M1692.5 499.1V534.1M1703.5 486.5V525.4M1709.5 486.5V513.3M1720.5 462.4V473.6M1747.5 426.9V463.1M1769.5 401.6V415.7M1785.5 388.7V403.8M1791.5 394.4V442.7M1796.5 411.8V468.0M1807.5 431.0V472.0M1818.5 460.5V504.4M1829.5 436.3V460.0M1834.5 447.5V488.1M1845.5 455.8V488.8M1851.5 468.0V506.0M1873.5 470.3V487.4M1900.5 420.5V438.8M1906.5 425.3V457.3M1933.5 398.7V424.1M1938.5 415.3V456.3M1955.5 403.2V430.6M1960.5 427.3V456.3M1966.5 429.6V447.4M1971.5 433.5V456.4M1988.5 418.4V440.9M1993.5 433.2V456.3M1999.5 446.1V500.8M2004.5 490.6V542.6M2026.5 456.7V471.4M2032.5 468.3V488.9M2042.5 480.2V508.4M2048.5 497.7V522.7M2053.5 508.9V573.7" stroke="#f23645" stroke-opacity="0.55" stroke-width="1" fill="none"/>
<path d="M-0.3 975.0h3.6V993.0h-3.6ZM15.7 975.0h3.6V979.0h-3.6ZM21.7 955.8h3.6V975.0h-3.6ZM32.7 940.7h3.6V957.5h-3.6ZM37.7 929.4h3.6V940.7h-3.6ZM43.7 901.8h3.6V929.4h-3.6ZM48.7 887.9h3.6V901.8h-3.6ZM54.7 884.0h3.6V887.9h-3.6ZM59.7 880.0h3.6V884.0h-3.6ZM65.7 872.9h3.6V880.0h-3.6ZM87.7 872.9h3.6V891.7h-3.6ZM98.7 849.0h3.6V874.0h-3.6ZM103.7 839.0h3.6V849.0h-3.6ZM108.7 836.4h3.6V839.0h-3.6ZM119.7 849.0h3.6V860.3h-3.6ZM125.7 812.6h3.6V849.0h-3.6ZM130.7 805.0h3.6V812.6h-3.6ZM136.7 773.8h3.6V805.0h-3.6ZM147.7 724.8h3.6V775.5h-3.6ZM163.7 736.1h3.6V771.3h-3.6ZM169.7 715.5h3.6V736.1h-3.6ZM174.7 706.5h3.6V715.5h-3.6ZM180.7 660.8h3.6V706.5h-3.6ZM191.7 663.3h3.6V667.0h-3.6ZM202.7 656.2h3.6V682.1h-3.6ZM212.7 637.6h3.6V663.8h-3.6ZM218.7 608.0h3.6V637.6h-3.6ZM240.7 579.1h3.6V616.8h-3.6ZM245.7 571.6h3.6V579.1h-3.6ZM256.7 566.6h3.6V604.2h-3.6ZM262.7 565.0h3.6V566.6h-3.6ZM267.7 536.4h3.6V565.0h-3.6ZM273.7 486.4h3.6V536.4h-3.6ZM278.7 444.9h3.6V486.4h-3.6ZM289.7 441.9h3.6V473.8h-3.6ZM300.7 434.1h3.6V444.9h-3.6ZM306.7 399.7h3.6V434.1h-3.6ZM311.7 398.0h3.6V399.7h-3.6ZM316.7 382.1h3.6V398.0h-3.6ZM327.7 398.0h3.6V426.1h-3.6ZM333.7 358.8h3.6V398.0h-3.6ZM338.7 296.0h3.6V358.8h-3.6ZM349.7 261.0h3.6V301.7h-3.6ZM355.7 239.7h3.6V261.0h-3.6ZM371.7 292.4h3.6V309.8h-3.6ZM382.7 260.3h3.6V293.0h-3.6ZM410.7 370.8h3.6V406.0h-3.6ZM426.7 461.2h3.6V499.4h-3.6ZM459.7 560.3h3.6V615.5h-3.6ZM464.7 512.0h3.6V560.3h-3.6ZM486.7 564.8h3.6V576.6h-3.6ZM524.7 682.9h3.6V735.6h-3.6ZM530.7 650.2h3.6V682.9h-3.6ZM546.7 701.0h3.6V724.8h-3.6ZM552.7 691.4h3.6V701.0h-3.6ZM557.7 669.6h3.6V691.4h-3.6ZM563.7 668.3h3.6V669.6h-3.6ZM568.7 652.0h3.6V668.3h-3.6ZM574.7 641.9h3.6V652.0h-3.6ZM590.7 636.9h3.6V657.7h-3.6ZM607.7 635.1h3.6V648.2h-3.6ZM623.7 641.9h3.6V660.8h-3.6ZM628.7 634.4h3.6V641.9h-3.6ZM634.7 624.3h3.6V634.4h-3.6ZM650.7 661.3h3.6V663.3h-3.6ZM656.7 652.7h3.6V661.3h-3.6ZM661.7 651.2h3.6V652.7h-3.6ZM667.7 635.6h3.6V651.2h-3.6ZM694.7 635.6h3.6V669.6h-3.6ZM705.7 633.1h3.6V655.7h-3.6ZM721.7 659.5h3.6V660.7h-3.6ZM727.7 657.7h3.6V659.5h-3.6ZM765.7 736.1h3.6V748.7h-3.6ZM776.7 740.6h3.6V757.5h-3.6ZM782.7 714.8h3.6V740.6h-3.6ZM787.7 706.5h3.6V714.8h-3.6ZM815.7 724.8h3.6V728.6h-3.6ZM820.7 716.0h3.6V724.8h-3.6ZM825.7 700.2h3.6V716.0h-3.6ZM831.7 695.4h3.6V700.2h-3.6ZM842.7 697.9h3.6V701.5h-3.6ZM880.7 811.3h3.6V833.2h-3.6ZM886.7 780.1h3.6V811.3h-3.6ZM891.7 767.5h3.6V780.1h-3.6ZM902.7 798.9h3.6V805.2h-3.6ZM908.7 771.3h3.6V798.9h-3.6ZM918.7 825.6h3.6V827.6h-3.6ZM946.7 911.3h3.6V945.7h-3.6ZM951.7 869.1h3.6V911.3h-3.6ZM962.7 865.3h3.6V887.9h-3.6ZM968.7 850.7h3.6V865.3h-3.6ZM973.7 846.5h3.6V850.7h-3.6ZM995.7 849.0h3.6V881.6h-3.6ZM1006.7 859.8h3.6V862.3h-3.6ZM1012.7 838.2h3.6V859.8h-3.6ZM1033.7 868.3h3.6V900.5h-3.6ZM1044.7 877.4h3.6V897.5h-3.6ZM1050.7 871.6h3.6V877.4h-3.6ZM1061.7 871.6h3.6V876.6h-3.6ZM1066.7 845.7h3.6V871.6h-3.6ZM1088.7 873.9h3.6V875.1h-3.6ZM1094.7 873.0h3.6V874.2h-3.6ZM1110.7 917.6h3.6V936.9h-3.6ZM1116.7 906.0h3.6V917.6h-3.6ZM1126.7 890.4h3.6V918.6h-3.6ZM1137.7 873.6h3.6V896.2h-3.6ZM1143.7 855.8h3.6V873.6h-3.6ZM1159.7 858.3h3.6V860.8h-3.6ZM1187.7 869.5h3.6V871.6h-3.6ZM1192.7 866.6h3.6V869.5h-3.6ZM1198.7 857.8h3.6V866.6h-3.6ZM1203.7 842.7h3.6V857.8h-3.6ZM1209.7 837.7h3.6V842.7h-3.6ZM1214.7 810.0h3.6V837.7h-3.6ZM1220.7 783.9h3.6V810.0h-3.6ZM1225.7 758.7h3.6V783.9h-3.6ZM1241.7 750.4h3.6V776.3h-3.6ZM1247.7 736.1h3.6V750.4h-3.6ZM1252.7 712.3h3.6V736.1h-3.6ZM1258.7 694.7h3.6V712.3h-3.6ZM1274.7 711.5h3.6V713.0h-3.6ZM1285.7 694.2h3.6V714.8h-3.6ZM1296.7 690.1h3.6V702.2h-3.6ZM1302.7 677.8h3.6V690.1h-3.6ZM1307.7 662.5h3.6V677.8h-3.6ZM1313.7 647.7h3.6V662.5h-3.6ZM1318.7 635.6h3.6V647.7h-3.6ZM1334.7 639.4h3.6V672.8h-3.6ZM1345.7 634.9h3.6V640.2h-3.6ZM1351.7 628.6h3.6V634.9h-3.6ZM1362.7 601.7h3.6V631.9h-3.6ZM1373.7 628.1h3.6V629.4h-3.6ZM1378.7 609.8h3.6V628.1h-3.6ZM1384.7 589.7h3.6V609.8h-3.6ZM1406.7 639.4h3.6V658.8h-3.6ZM1417.7 634.4h3.6V662.0h-3.6ZM1427.7 650.2h3.6V663.3h-3.6ZM1433.7 640.2h3.6V650.2h-3.6ZM1438.7 635.6h3.6V640.2h-3.6ZM1444.7 630.6h3.6V635.6h-3.6ZM1449.7 607.5h3.6V630.6h-3.6ZM1455.7 600.5h3.6V607.5h-3.6ZM1460.7 598.5h3.6V600.5h-3.6ZM1466.7 595.5h3.6V598.5h-3.6ZM1471.7 591.7h3.6V595.5h-3.6ZM1477.7 587.9h3.6V591.7h-3.6ZM1482.7 578.6h3.6V587.9h-3.6ZM1493.7 574.1h3.6V580.4h-3.6ZM1504.7 572.8h3.6V579.9h-3.6ZM1510.7 558.5h3.6V572.8h-3.6ZM1515.7 554.5h3.6V558.5h-3.6ZM1526.7 545.2h3.6V559.0h-3.6ZM1531.7 543.2h3.6V545.2h-3.6ZM1542.7 553.3h3.6V555.3h-3.6ZM1548.7 535.2h3.6V553.3h-3.6ZM1553.7 522.0h3.6V535.2h-3.6ZM1559.7 508.2h3.6V522.0h-3.6ZM1564.7 488.1h3.6V508.2h-3.6ZM1570.7 486.7h3.6V488.1h-3.6ZM1592.7 541.4h3.6V557.3h-3.6ZM1597.7 533.2h3.6V541.4h-3.6ZM1603.7 517.9h3.6V533.2h-3.6ZM1608.7 501.3h3.6V517.9h-3.6ZM1625.7 524.3h3.6V530.7h-3.6ZM1635.7 538.9h3.6V550.2h-3.6ZM1641.7 535.2h3.6V538.9h-3.6ZM1646.7 516.3h3.6V535.2h-3.6ZM1652.7 515.5h3.6V516.7h-3.6ZM1674.7 536.4h3.6V557.7h-3.6ZM1679.7 526.3h3.6V536.4h-3.6ZM1685.7 518.3h3.6V526.3h-3.6ZM1696.7 497.3h3.6V527.0h-3.6ZM1712.7 465.7h3.6V509.5h-3.6ZM1723.7 463.0h3.6V471.0h-3.6ZM1728.7 445.9h3.6V463.0h-3.6ZM1734.7 437.1h3.6V445.9h-3.6ZM1739.7 432.1h3.6V437.1h-3.6ZM1750.7 418.3h3.6V454.7h-3.6ZM1756.7 417.0h3.6V418.3h-3.6ZM1761.7 406.2h3.6V417.0h-3.6ZM1772.7 396.9h3.6V413.8h-3.6ZM1778.7 390.2h3.6V396.9h-3.6ZM1800.7 437.1h3.6V444.7h-3.6ZM1811.7 467.3h3.6V471.0h-3.6ZM1822.7 449.7h3.6V487.4h-3.6ZM1838.7 459.7h3.6V479.1h-3.6ZM1854.7 491.1h3.6V497.4h-3.6ZM1860.7 477.8h3.6V491.1h-3.6ZM1865.7 474.3h3.6V477.8h-3.6ZM1876.7 453.0h3.6V475.0h-3.6ZM1882.7 428.8h3.6V453.0h-3.6ZM1887.7 425.3h3.6V428.8h-3.6ZM1893.7 423.8h3.6V425.3h-3.6ZM1909.7 431.4h3.6V452.2h-3.6ZM1915.7 420.8h3.6V431.4h-3.6ZM1920.7 412.0h3.6V420.8h-3.6ZM1926.7 398.7h3.6V412.0h-3.6ZM1942.7 427.1h3.6V438.9h-3.6ZM1947.7 410.8h3.6V427.1h-3.6ZM1975.7 429.6h3.6V452.2h-3.6ZM1980.7 425.3h3.6V429.6h-3.6ZM2008.7 483.1h3.6V506.2h-3.6ZM2013.7 467.3h3.6V483.1h-3.6ZM2019.7 459.7h3.6V467.3h-3.6ZM2035.7 483.6h3.6V486.6h-3.6Z" fill="#26a69a"/>
<path d="M4.7 975.0h3.6V978.0h-3.6ZM10.7 978.0h3.6V979.2h-3.6ZM26.7 955.8h3.6V957.5h-3.6ZM70.7 872.9h3.6V876.6h-3.6ZM76.7 876.6h3.6V884.0h-3.6ZM81.7 884.0h3.6V891.7h-3.6ZM92.7 872.9h3.6V874.1h-3.6ZM114.7 836.4h3.6V860.3h-3.6ZM141.7 773.8h3.6V775.5h-3.6ZM152.7 724.8h3.6V762.5h-3.6ZM158.7 762.5h3.6V771.3h-3.6ZM185.7 660.8h3.6V667.0h-3.6ZM196.7 663.3h3.6V682.1h-3.6ZM207.7 656.2h3.6V663.8h-3.6ZM223.7 608.0h3.6V610.0h-3.6ZM229.7 610.0h3.6V613.5h-3.6ZM234.7 613.5h3.6V616.8h-3.6ZM251.7 571.6h3.6V604.2h-3.6ZM284.7 444.9h3.6V473.8h-3.6ZM295.7 441.9h3.6V444.9h-3.6ZM322.7 382.1h3.6V426.1h-3.6ZM344.7 296.0h3.6V301.7h-3.6ZM360.7 239.7h3.6V277.4h-3.6ZM366.7 277.4h3.6V309.8h-3.6ZM377.7 292.4h3.6V293.6h-3.6ZM388.7 260.3h3.6V293.4h-3.6ZM393.7 293.4h3.6V305.5h-3.6ZM399.7 305.5h3.6V385.9h-3.6ZM404.7 385.9h3.6V406.0h-3.6ZM415.7 370.8h3.6V456.7h-3.6ZM420.7 456.7h3.6V499.4h-3.6ZM431.7 461.2h3.6V471.3h-3.6ZM437.7 471.3h3.6V474.0h-3.6ZM442.7 474.0h3.6V490.1h-3.6ZM448.7 490.1h3.6V535.2h-3.6ZM453.7 535.2h3.6V615.5h-3.6ZM470.7 512.0h3.6V520.0h-3.6ZM475.7 520.0h3.6V528.0h-3.6ZM481.7 528.0h3.6V576.6h-3.6ZM492.7 564.8h3.6V605.5h-3.6ZM497.7 605.5h3.6V635.6h-3.6ZM503.7 635.6h3.6V663.8h-3.6ZM508.7 663.8h3.6V678.3h-3.6ZM513.7 678.3h3.6V691.4h-3.6ZM519.7 691.4h3.6V735.6h-3.6ZM535.7 650.2h3.6V708.5h-3.6ZM541.7 708.5h3.6V724.8h-3.6ZM579.7 641.9h3.6V643.5h-3.6ZM585.7 643.5h3.6V657.7h-3.6ZM596.7 636.9h3.6V645.2h-3.6ZM601.7 645.2h3.6V648.2h-3.6ZM612.7 635.1h3.6V636.3h-3.6ZM617.7 635.6h3.6V660.8h-3.6ZM639.7 624.3h3.6V644.9h-3.6ZM645.7 644.9h3.6V663.3h-3.6ZM672.7 635.6h3.6V650.2h-3.6ZM678.7 650.2h3.6V653.2h-3.6ZM683.7 653.2h3.6V654.4h-3.6ZM689.7 654.0h3.6V669.6h-3.6ZM700.7 635.6h3.6V655.7h-3.6ZM711.7 633.1h3.6V640.2h-3.6ZM716.7 640.2h3.6V659.5h-3.6ZM732.7 657.7h3.6V675.8h-3.6ZM738.7 675.8h3.6V692.2h-3.6ZM743.7 692.2h3.6V696.0h-3.6ZM749.7 696.0h3.6V700.5h-3.6ZM754.7 700.5h3.6V732.4h-3.6ZM760.7 732.4h3.6V748.7h-3.6ZM771.7 736.1h3.6V757.5h-3.6ZM793.7 706.5h3.6V715.5h-3.6ZM798.7 715.5h3.6V716.7h-3.6ZM804.7 716.0h3.6V717.2h-3.6ZM809.7 716.8h3.6V728.6h-3.6ZM836.7 695.4h3.6V701.5h-3.6ZM847.7 697.9h3.6V711.0h-3.6ZM853.7 711.0h3.6V712.2h-3.6ZM858.7 712.0h3.6V724.3h-3.6ZM864.7 724.3h3.6V742.4h-3.6ZM869.7 742.4h3.6V805.2h-3.6ZM875.7 805.2h3.6V833.2h-3.6ZM897.7 767.5h3.6V805.2h-3.6ZM913.7 771.3h3.6V827.6h-3.6ZM924.7 825.6h3.6V890.9h-3.6ZM929.7 890.9h3.6V905.5h-3.6ZM935.7 905.5h3.6V926.4h-3.6ZM940.7 926.4h3.6V945.7h-3.6ZM957.7 869.1h3.6V887.9h-3.6ZM979.7 846.5h3.6V847.7h-3.6ZM984.7 847.5h3.6V865.3h-3.6ZM990.7 865.3h3.6V881.6h-3.6ZM1001.7 849.0h3.6V862.3h-3.6ZM1017.7 838.2h3.6V848.5h-3.6ZM1022.7 848.5h3.6V876.6h-3.6ZM1028.7 876.6h3.6V900.5h-3.6ZM1039.7 868.3h3.6V897.5h-3.6ZM1055.7 871.6h3.6V876.6h-3.6ZM1072.7 845.7h3.6V853.3h-3.6ZM1077.7 853.3h3.6V859.0h-3.6ZM1083.7 859.0h3.6V874.9h-3.6ZM1099.7 873.0h3.6V890.9h-3.6ZM1105.7 890.9h3.6V936.9h-3.6ZM1121.7 906.0h3.6V918.6h-3.6ZM1132.7 890.4h3.6V896.2h-3.6ZM1148.7 855.8h3.6V858.3h-3.6ZM1154.7 858.3h3.6V860.8h-3.6ZM1165.7 858.3h3.6V859.5h-3.6ZM1170.7 859.0h3.6V860.2h-3.6ZM1176.7 859.8h3.6V867.8h-3.6ZM1181.7 867.8h3.6V871.6h-3.6ZM1230.7 758.7h3.6V761.2h-3.6ZM1236.7 761.2h3.6V776.3h-3.6ZM1263.7 694.7h3.6V708.5h-3.6ZM1269.7 708.5h3.6V713.0h-3.6ZM1280.7 711.5h3.6V714.8h-3.6ZM1291.7 694.2h3.6V702.2h-3.6ZM1323.7 635.6h3.6V643.7h-3.6ZM1329.7 643.7h3.6V672.8h-3.6ZM1340.7 639.4h3.6V640.6h-3.6ZM1356.7 628.6h3.6V631.9h-3.6ZM1367.7 601.7h3.6V629.4h-3.6ZM1389.7 589.7h3.6V592.9h-3.6ZM1395.7 592.9h3.6V626.4h-3.6ZM1400.7 626.4h3.6V658.8h-3.6ZM1411.7 639.4h3.6V662.0h-3.6ZM1422.7 634.4h3.6V663.3h-3.6ZM1488.7 578.6h3.6V580.4h-3.6ZM1499.7 574.1h3.6V579.9h-3.6ZM1521.7 554.5h3.6V559.0h-3.6ZM1537.7 543.2h3.6V555.3h-3.6ZM1575.7 486.7h3.6V516.8h-3.6ZM1581.7 516.8h3.6V518.7h-3.6ZM1586.7 518.7h3.6V557.3h-3.6ZM1614.7 501.3h3.6V530.0h-3.6ZM1619.7 530.0h3.6V531.2h-3.6ZM1630.7 524.3h3.6V550.2h-3.6ZM1657.7 515.5h3.6V520.2h-3.6ZM1663.7 520.2h3.6V536.4h-3.6ZM1668.7 536.4h3.6V557.7h-3.6ZM1690.7 518.3h3.6V527.0h-3.6ZM1701.7 497.3h3.6V502.4h-3.6ZM1707.7 502.4h3.6V509.5h-3.6ZM1718.7 465.7h3.6V471.0h-3.6ZM1745.7 432.1h3.6V454.7h-3.6ZM1767.7 406.2h3.6V413.8h-3.6ZM1783.7 390.2h3.6V396.2h-3.6ZM1789.7 396.2h3.6V415.8h-3.6ZM1794.7 415.8h3.6V444.7h-3.6ZM1805.7 437.1h3.6V471.0h-3.6ZM1816.7 467.3h3.6V487.4h-3.6ZM1827.7 449.7h3.6V456.0h-3.6ZM1832.7 456.0h3.6V479.1h-3.6ZM1843.7 459.7h3.6V469.8h-3.6ZM1849.7 469.8h3.6V497.4h-3.6ZM1871.7 474.3h3.6V475.5h-3.6ZM1898.7 423.8h3.6V427.1h-3.6ZM1904.7 427.1h3.6V452.2h-3.6ZM1931.7 398.7h3.6V419.6h-3.6ZM1936.7 419.6h3.6V438.9h-3.6ZM1953.7 410.8h3.6V428.3h-3.6ZM1958.7 428.3h3.6V430.9h-3.6ZM1964.7 430.9h3.6V439.7h-3.6ZM1969.7 439.7h3.6V452.2h-3.6ZM1986.7 425.3h3.6V437.1h-3.6ZM1991.7 437.1h3.6V450.5h-3.6ZM1997.7 450.5h3.6V497.4h-3.6ZM2002.7 497.4h3.6V506.2h-3.6ZM2024.7 459.7h3.6V470.5h-3.6ZM2030.7 470.5h3.6V486.6h-3.6ZM2040.7 483.6h3.6V503.2h-3.6ZM2046.7 503.2h3.6V508.9h-3.6ZM2051.7 508.9h3.6V542.2h-3.6Z" fill="#ef5350"/>
<path d="M120.6 1018.5C122.3 1017.2 123.9 1016.0 130.6 1011.0C137.3 1006.0 151.6 998.0 160.8 988.4C170.0 978.8 177.1 964.1 185.9 953.2C194.7 942.3 205.1 932.3 213.5 923.1C221.9 913.9 229.4 906.0 236.1 898.0C242.8 890.0 247.4 884.2 253.7 875.4C260.0 866.6 267.9 855.2 273.8 845.2C279.7 835.2 284.7 822.6 288.9 815.1C293.1 807.6 294.7 807.7 298.9 800.0C303.1 792.3 307.7 781.1 314.0 768.8C320.3 756.5 330.3 738.7 336.6 726.1C342.9 713.5 347.1 702.6 351.7 693.4C356.3 684.2 358.8 680.8 364.2 670.8C369.6 660.8 378.0 643.1 384.3 633.1C390.6 623.1 395.6 617.2 401.9 610.5C408.2 603.8 414.5 598.3 422.0 592.9C429.5 587.5 437.9 582.9 447.1 577.9C456.3 572.9 468.1 566.4 477.3 562.8C486.5 559.2 490.7 559.0 502.4 556.5C514.1 554.0 531.3 551.1 547.6 547.7C563.9 544.4 585.0 539.8 600.0 536.4C615.0 533.0 625.1 530.1 637.7 527.6C650.3 525.1 662.9 523.0 675.4 521.4C687.9 519.8 703.4 518.7 713.0 518.1C722.6 517.5 726.0 517.5 733.1 517.6C740.2 517.7 747.7 518.0 755.7 518.8C763.7 519.5 772.5 521.0 780.9 522.1C789.3 523.2 798.5 523.6 806.0 525.1C813.5 526.6 818.6 528.9 826.1 531.4C833.6 533.9 843.7 536.6 851.2 540.2C858.7 543.8 864.2 546.9 871.3 552.8C878.4 558.7 887.6 567.9 893.9 575.4C900.2 582.9 904.4 591.7 909.0 598.0C913.6 604.3 917.3 606.7 921.5 613.0C925.7 619.3 929.9 628.9 934.1 635.6C938.3 642.3 942.4 648.0 946.6 653.2C950.8 658.4 953.3 662.0 959.2 667.0C965.1 672.0 974.7 678.2 981.8 683.4C988.9 688.6 994.4 693.0 1001.9 698.4C1009.4 703.8 1018.6 711.2 1027.0 716.0C1035.4 720.8 1043.7 724.4 1052.1 727.3C1060.5 730.2 1068.9 731.5 1077.3 733.6C1085.7 735.7 1094.0 737.0 1102.4 739.9C1110.8 742.8 1119.1 747.4 1127.5 751.2C1135.9 755.0 1144.2 758.7 1152.6 762.5C1161.0 766.3 1169.8 770.7 1177.7 773.8C1185.6 776.9 1192.1 778.4 1200.0 781.3C1207.9 784.2 1216.7 788.5 1225.1 791.4C1233.5 794.2 1241.8 796.8 1250.2 798.4C1258.6 800.0 1267.9 800.4 1275.4 800.9C1283.0 801.4 1289.2 801.7 1295.5 801.4C1301.8 801.1 1305.9 800.1 1313.0 798.9C1320.1 797.6 1328.6 796.4 1338.2 793.9C1347.8 791.4 1360.3 786.5 1370.8 783.8C1381.3 781.1 1391.8 779.7 1401.0 777.6C1410.2 775.5 1417.7 774.0 1426.1 771.3C1434.5 768.6 1442.8 765.2 1451.2 761.2C1459.6 757.2 1467.9 752.4 1476.3 747.4C1484.7 742.4 1493.0 736.5 1501.4 731.1C1509.8 725.7 1518.2 720.0 1526.6 714.8C1535.0 709.6 1543.3 705.4 1551.7 699.7C1560.1 694.1 1568.4 686.5 1576.8 680.9C1585.2 675.2 1593.5 670.8 1601.9 665.8C1610.3 660.8 1618.6 655.5 1627.0 650.7C1635.4 645.9 1643.7 642.1 1652.1 636.9C1660.5 631.7 1668.9 624.5 1677.3 619.3C1685.7 614.1 1694.0 610.5 1702.4 605.5C1710.8 600.5 1719.1 594.2 1727.5 589.2C1735.9 584.2 1743.7 580.3 1752.6 575.4C1761.5 570.5 1772.2 564.4 1780.7 560.0C1789.2 555.6 1795.3 552.4 1803.3 548.9C1811.2 545.4 1820.0 541.8 1828.4 538.9C1836.8 536.0 1845.1 534.2 1853.5 531.3C1861.9 528.4 1870.2 524.4 1878.6 521.3C1887.0 518.2 1895.4 515.6 1903.8 512.5C1912.2 509.4 1920.5 505.5 1928.9 502.4C1937.3 499.3 1945.6 496.4 1954.0 493.7C1962.4 491.0 1970.7 488.4 1979.1 486.1C1987.5 483.8 1995.8 481.5 2004.2 479.8C2012.6 478.1 2021.0 476.9 2029.3 476.1C2037.6 475.3 2049.9 475.0 2054.0 474.8" stroke="#ffe629" stroke-width="2.1" fill="none" stroke-linecap="round"/>
<path d="M449.6 733.6C452.1 733.0 460.1 731.7 464.7 729.8C469.3 727.9 471.0 725.0 477.3 722.3C483.6 719.6 494.0 716.0 502.4 713.5C510.8 711.0 519.1 709.3 527.5 707.2C535.9 705.1 544.2 703.1 552.6 701.0C561.0 698.9 569.8 696.8 577.7 694.7C585.6 692.6 588.8 691.3 600.0 688.4C611.2 685.5 630.1 680.5 645.2 677.1C660.3 673.8 678.2 670.8 690.4 668.3C702.5 665.8 708.0 664.3 718.1 662.0C728.2 659.7 739.0 656.8 750.7 654.5C762.4 652.2 775.8 650.3 788.4 648.2C801.0 646.1 813.5 643.8 826.1 641.9C838.7 640.0 849.1 638.6 863.8 636.9C878.4 635.2 895.2 633.1 914.0 631.9C932.8 630.6 953.8 630.2 976.8 629.4C999.8 628.6 1027.0 627.7 1052.1 626.9C1077.2 626.1 1102.8 625.1 1127.5 624.8C1152.2 624.4 1177.5 625.0 1200.0 624.8C1222.5 624.6 1244.0 623.8 1262.8 623.8C1281.6 623.8 1298.3 624.4 1313.0 624.8C1327.7 625.2 1340.2 625.6 1350.7 626.4C1361.2 627.2 1368.3 628.1 1375.8 629.4C1383.3 630.7 1389.6 632.5 1395.9 634.4C1402.2 636.3 1407.6 638.2 1413.5 640.7C1419.4 643.2 1424.8 646.0 1431.1 649.5C1437.4 653.0 1444.5 657.6 1451.2 662.0C1457.9 666.4 1465.0 671.6 1471.3 675.8C1477.6 680.0 1483.0 684.0 1488.9 687.1C1494.8 690.2 1500.2 692.8 1506.5 694.7C1512.8 696.6 1520.3 697.5 1526.6 698.4C1532.9 699.3 1537.8 700.1 1544.1 700.2C1550.4 700.3 1556.7 699.7 1564.2 699.2C1571.7 698.7 1580.9 698.4 1589.3 697.2C1597.7 696.0 1606.1 693.9 1614.5 692.2C1622.9 690.5 1629.9 688.8 1639.6 687.1C1649.3 685.4 1661.3 683.8 1672.7 681.9C1684.1 680.0 1695.7 678.5 1707.8 675.6C1719.9 672.8 1732.5 669.1 1745.5 664.8C1758.5 660.5 1774.0 653.5 1785.7 649.8C1797.4 646.1 1803.2 645.7 1815.8 642.5C1828.3 639.3 1848.4 633.9 1861.0 630.4C1873.6 626.9 1882.0 624.5 1891.2 621.6C1900.4 618.7 1905.8 616.3 1916.3 612.8C1926.8 609.2 1941.4 604.5 1954.0 600.3C1966.6 596.1 1981.2 590.9 1991.7 587.7C2002.2 584.6 2009.3 583.3 2016.8 581.4C2024.3 579.5 2030.7 577.8 2036.9 576.4C2043.1 575.0 2051.2 573.3 2054.0 572.7" stroke="#2962ff" stroke-width="3.9" fill="none" stroke-linecap="round"/>
<path d="M8.8 1016.0C10.5 1015.2 12.3 1014.5 18.8 1011.0C25.3 1007.5 37.0 1001.8 47.7 994.7C58.4 987.6 73.3 974.8 82.9 968.3C92.5 961.8 98.8 959.7 105.5 955.7C112.2 951.7 115.6 951.1 123.1 944.4C130.6 937.7 144.4 921.6 150.7 915.5C157.0 909.4 156.6 912.2 160.8 908.0C165.0 903.8 170.4 897.9 175.8 890.4C181.2 882.9 188.0 870.5 193.4 862.8C198.8 855.1 203.9 850.3 208.5 844.0C213.1 837.7 216.2 832.4 221.0 825.1C225.8 817.8 232.4 808.5 237.4 800.0C242.4 791.5 245.1 784.4 251.2 773.8C257.3 763.1 267.1 748.7 273.8 736.1C280.5 723.5 284.7 712.6 291.4 698.4C298.1 684.2 307.3 663.7 314.0 650.7C320.7 637.7 326.2 631.9 331.6 620.6C337.0 609.3 341.6 597.5 346.6 582.9C351.6 568.2 355.8 546.5 361.7 532.7C367.6 518.9 375.9 510.2 381.8 500.0C387.7 489.8 391.9 478.6 396.9 471.3C401.9 464.0 407.0 460.6 412.0 456.2C417.0 451.8 421.1 448.4 427.0 444.9C432.9 441.4 441.7 437.3 447.1 435.4C452.6 433.5 454.7 434.8 459.7 433.6C464.7 432.4 471.9 429.3 477.3 428.1C482.7 426.9 486.5 426.5 492.3 426.6C498.1 426.7 506.5 427.8 512.4 428.6C518.3 429.4 521.6 429.9 527.5 431.6C533.4 433.3 540.9 435.8 547.6 438.6C554.3 441.5 561.4 445.4 567.7 448.7C574.0 452.0 579.4 454.9 585.3 458.7C591.2 462.5 597.9 466.7 602.9 471.3C607.9 475.9 611.2 480.5 615.4 486.4C619.6 492.3 624.3 500.1 628.0 506.5C631.7 513.0 634.0 517.4 637.7 525.1C641.4 532.8 645.2 542.8 650.2 552.8C655.2 562.8 661.9 576.2 667.8 585.4C673.7 594.6 679.9 602.1 685.4 608.0C690.9 613.9 695.0 616.0 700.5 620.6C706.0 625.2 712.2 631.8 718.1 635.6C724.0 639.4 730.2 640.1 735.6 643.2C741.0 646.4 744.8 651.0 750.7 654.5C756.6 658.0 764.1 662.3 770.8 664.5C777.5 666.7 784.2 666.8 790.9 667.8C797.6 668.8 804.3 670.2 811.0 670.8C817.7 671.4 824.4 671.0 831.1 671.6C837.8 672.2 845.3 673.3 851.2 674.6C857.1 675.9 860.4 676.9 866.3 679.6C872.2 682.3 880.5 687.8 886.4 690.9C892.2 694.0 895.5 695.5 901.4 698.4C907.2 701.3 915.6 705.1 921.5 708.5C927.4 711.9 929.9 713.1 936.6 718.5C943.3 723.9 954.2 734.8 961.7 741.1C969.2 747.4 975.1 751.0 981.8 756.2C988.5 761.4 994.4 767.0 1001.9 772.5C1009.4 778.0 1018.6 784.3 1027.0 788.9C1035.4 793.5 1045.0 796.7 1052.1 800.2C1059.2 803.7 1063.4 806.3 1069.7 810.0C1076.0 813.7 1083.9 818.8 1089.8 822.6C1095.7 826.4 1099.5 828.3 1104.9 832.7C1110.4 837.1 1117.0 844.4 1122.5 849.0C1128.0 853.6 1132.6 857.8 1137.6 860.3C1142.6 862.8 1147.6 862.9 1152.6 864.1C1157.6 865.4 1163.1 866.3 1167.7 867.8C1172.3 869.2 1175.3 871.6 1180.3 872.8C1185.3 874.0 1192.4 875.3 1197.8 874.9C1203.2 874.5 1207.1 873.0 1212.9 870.3C1218.7 867.6 1226.5 862.0 1232.7 858.5C1238.9 855.0 1243.9 853.1 1250.2 849.2C1256.5 845.4 1263.2 840.0 1270.3 835.4C1277.4 830.8 1286.2 826.4 1292.9 821.6C1299.6 816.8 1305.0 811.5 1310.5 806.5C1316.0 801.5 1319.7 797.3 1325.6 791.4C1331.5 785.5 1339.4 778.0 1345.7 771.3C1352.0 764.6 1357.4 757.1 1363.3 751.2C1369.2 745.3 1375.5 741.1 1380.9 736.1C1386.3 731.1 1390.1 726.0 1395.9 721.0C1401.8 716.0 1409.3 710.6 1416.0 706.0C1422.7 701.4 1430.2 697.0 1436.1 693.4C1442.0 689.8 1445.8 688.8 1451.2 684.6C1456.7 680.4 1462.9 673.5 1468.8 668.3C1474.7 663.1 1480.1 658.0 1486.4 653.2C1492.7 648.4 1499.8 643.8 1506.5 639.4C1513.2 635.0 1519.9 630.9 1526.6 626.9C1533.3 622.9 1540.8 619.3 1546.6 615.5C1552.4 611.7 1556.7 607.8 1561.7 604.2C1566.7 600.7 1571.3 596.9 1576.8 594.2C1582.2 591.5 1588.5 590.6 1594.4 587.9C1600.3 585.2 1606.6 580.4 1612.0 577.9C1617.4 575.4 1621.2 574.8 1627.0 572.8C1632.8 570.8 1640.8 567.7 1647.1 565.8C1653.4 563.9 1657.5 563.9 1664.7 561.5C1671.9 559.1 1681.8 555.2 1690.2 551.4C1698.7 547.6 1707.0 543.5 1715.4 538.9C1723.8 534.3 1732.1 529.2 1740.5 523.8C1748.9 518.3 1758.1 511.2 1765.6 506.2C1773.1 501.2 1779.0 497.0 1785.7 493.7C1792.4 490.4 1799.1 488.2 1805.8 486.1C1812.5 484.0 1820.0 482.2 1825.9 481.1C1831.8 480.1 1835.6 480.2 1841.0 479.8C1846.4 479.4 1852.7 479.4 1858.5 478.6C1864.3 477.8 1870.6 476.5 1876.1 474.8C1881.5 473.1 1886.2 470.4 1891.2 468.5C1896.2 466.6 1900.9 465.4 1906.3 463.5C1911.7 461.6 1917.9 459.3 1923.8 457.2C1929.7 455.1 1936.0 453.1 1941.4 451.0C1946.9 448.9 1951.0 446.4 1956.5 444.7C1962.0 443.0 1968.2 441.9 1974.1 440.9C1980.0 439.8 1986.7 438.6 1991.7 438.4C1996.7 438.2 2000.0 439.1 2004.2 439.7C2008.4 440.3 2012.2 441.4 2016.8 442.2C2021.4 443.0 2027.3 443.7 2031.9 444.7C2036.5 445.7 2040.7 447.0 2044.4 448.4C2048.1 449.8 2052.4 452.2 2054.0 453.0" stroke="#f23645" stroke-width="3.3" fill="none" stroke-linecap="round"/>
<path d="M0.0 992.2C2.5 991.8 10.1 991.4 15.1 989.7C20.1 988.0 24.7 984.8 30.1 982.1C35.5 979.4 41.4 978.3 47.7 973.3C54.0 968.3 59.8 960.8 67.8 952.0C75.8 943.2 86.7 930.9 95.5 920.6C104.3 910.3 113.1 900.5 120.6 890.4C128.1 880.3 135.7 868.7 140.7 860.3C145.7 851.9 147.3 845.2 150.7 840.2C154.0 835.2 156.0 836.8 160.8 830.1C165.6 823.4 173.8 811.0 179.6 800.0C185.4 789.0 189.8 775.3 195.9 763.8C202.0 752.3 209.3 743.2 216.0 731.1C222.7 719.0 230.7 702.2 236.1 690.9C241.5 679.6 244.1 671.7 248.7 663.3C253.3 654.9 259.2 649.1 263.8 640.7C268.4 632.3 272.5 622.2 276.3 613.0C280.1 603.8 282.6 594.2 286.4 585.4C290.2 576.6 294.7 570.3 298.9 560.3C303.1 550.2 307.3 535.1 311.5 525.1C315.7 515.1 320.2 506.9 324.0 500.0C327.8 493.1 329.5 494.9 334.1 483.8C338.7 472.7 347.1 448.7 351.7 433.6C356.3 418.5 358.3 403.4 361.7 393.4C365.1 383.3 368.0 381.2 371.8 373.3C375.6 365.4 380.1 352.6 384.3 345.7C388.5 338.8 392.3 335.1 396.9 331.9C401.5 328.7 407.0 326.0 412.0 326.4C417.0 326.8 422.6 332.4 427.0 334.4C431.4 336.4 435.2 336.5 438.3 338.2C441.4 339.9 442.8 339.8 445.9 344.4C449.0 349.0 453.6 357.6 457.2 365.8C460.8 374.0 463.8 385.0 467.2 393.4C470.6 401.8 473.9 408.1 477.3 416.0C480.7 423.9 484.0 431.1 487.3 441.1C490.6 451.2 494.0 464.8 497.4 476.3C500.8 487.8 504.5 501.4 507.4 510.0C510.3 518.5 512.0 519.6 514.9 527.6C517.8 535.6 521.6 549.8 525.0 557.8C528.4 565.8 531.2 567.9 535.0 575.4C538.8 582.9 543.6 594.6 547.6 603.0C551.6 611.4 554.7 620.2 558.9 625.6C563.1 631.0 568.3 630.6 572.7 635.6C577.1 640.6 580.3 650.0 585.3 655.7C590.3 661.4 597.0 667.9 602.9 669.6C608.8 671.3 615.0 667.9 620.4 665.8C625.8 663.7 631.1 658.7 635.2 657.0C639.3 655.3 641.4 657.0 645.2 655.7C649.0 654.5 653.6 651.2 657.8 649.5C662.0 647.8 665.7 646.4 670.3 645.7C674.9 645.0 680.4 645.0 685.4 645.2C690.4 645.4 695.5 646.6 700.5 646.9C705.5 647.2 710.5 646.7 715.5 646.9C720.5 647.1 726.0 647.2 730.6 648.2C735.2 649.2 738.2 650.5 743.2 653.2C748.2 655.9 754.5 659.9 760.8 664.5C767.1 669.1 774.2 676.3 780.9 680.9C787.6 685.5 794.3 687.6 801.0 692.2C807.7 696.8 814.3 704.5 821.0 708.5C827.7 712.5 834.8 714.3 841.1 716.0C847.4 717.7 853.7 717.6 858.7 718.5C863.7 719.4 865.8 719.5 871.3 721.6C876.8 723.7 885.1 727.4 891.4 731.1C897.7 734.8 904.0 740.2 909.0 743.7C914.0 747.2 917.3 747.8 921.5 752.4C925.7 757.0 928.6 761.7 934.1 771.3C939.6 780.9 947.5 798.5 954.2 810.0C960.9 821.5 968.9 834.3 974.3 840.2C979.7 846.1 982.2 842.7 986.8 845.2C991.4 847.7 996.9 851.9 1001.9 855.3C1006.9 858.6 1012.4 862.2 1017.0 865.3C1021.6 868.4 1025.3 872.9 1029.5 874.1C1033.7 875.4 1037.5 874.0 1042.1 872.8C1046.7 871.5 1052.2 868.0 1057.2 866.6C1062.2 865.2 1067.2 864.2 1072.2 864.1C1077.2 864.0 1082.3 865.2 1087.3 865.8C1092.3 866.4 1097.8 866.2 1102.4 867.8C1107.0 869.4 1110.3 872.9 1114.9 875.4C1119.5 877.9 1125.4 881.9 1130.0 882.9C1134.6 883.9 1138.0 882.2 1142.6 881.6C1147.2 881.0 1152.6 879.8 1157.6 879.1C1162.6 878.4 1167.7 877.4 1172.7 877.4C1177.7 877.4 1182.8 879.0 1187.8 879.1C1192.8 879.2 1198.3 879.0 1202.9 877.9C1207.5 876.8 1211.2 876.6 1215.4 872.8C1219.6 869.0 1223.9 861.1 1228.0 855.3C1232.1 849.4 1235.2 845.2 1240.0 837.7C1244.8 830.2 1252.2 816.9 1256.5 810.0C1260.8 803.1 1261.4 802.9 1265.8 796.4C1270.2 789.9 1277.1 780.1 1282.9 771.3C1288.7 762.5 1295.5 751.7 1300.5 743.7C1305.5 735.8 1308.8 729.9 1313.0 723.6C1317.2 717.3 1319.7 713.1 1325.6 706.0C1331.5 698.9 1341.9 687.8 1348.2 680.9C1354.5 674.0 1358.7 668.7 1363.3 664.5C1367.9 660.3 1372.0 658.8 1375.8 655.7C1379.6 652.6 1382.6 648.8 1385.9 645.7C1389.2 642.6 1392.1 639.1 1395.9 636.9C1399.7 634.7 1404.7 633.4 1408.5 632.4C1412.3 631.4 1414.3 631.1 1418.5 631.1C1422.7 631.1 1429.0 632.9 1433.6 632.6C1438.2 632.3 1442.0 630.6 1446.2 629.4C1450.4 628.2 1454.5 626.6 1458.7 625.6C1462.9 624.6 1466.7 624.4 1471.3 623.1C1475.9 621.8 1481.4 619.0 1486.4 617.6C1491.4 616.2 1496.4 617.0 1501.4 615.0C1506.4 613.0 1511.5 609.8 1516.5 605.5C1521.5 601.2 1526.6 594.2 1531.6 589.2C1536.6 584.2 1542.0 579.8 1546.6 575.4C1551.2 571.0 1555.0 566.8 1559.2 562.8C1563.4 558.8 1567.2 554.9 1571.8 551.5C1576.4 548.1 1581.8 545.4 1586.8 542.7C1591.8 540.0 1597.3 537.4 1601.9 535.2C1606.5 533.0 1610.3 530.9 1614.5 529.6C1618.7 528.3 1622.8 528.2 1627.0 527.6C1631.2 527.0 1636.2 527.1 1640.0 526.3C1643.8 525.4 1646.7 523.4 1650.0 522.5C1653.3 521.6 1656.8 520.6 1660.1 520.8C1663.4 521.0 1666.8 522.7 1670.1 523.8C1673.4 524.9 1676.8 526.8 1680.2 527.6C1683.6 528.4 1686.4 529.2 1690.2 528.8C1694.0 528.4 1698.2 526.6 1702.8 525.1C1707.4 523.6 1713.3 522.3 1717.9 520.0C1722.5 517.7 1726.2 514.8 1730.4 511.2C1734.6 507.6 1739.2 502.0 1743.0 498.7C1746.8 495.4 1749.2 494.5 1753.0 491.1C1756.8 487.8 1761.8 482.8 1765.6 478.6C1769.4 474.4 1772.2 470.6 1775.6 466.0C1778.9 461.4 1782.3 455.0 1785.7 451.0C1789.1 447.0 1791.5 444.6 1795.7 442.2C1799.9 439.8 1805.3 437.8 1810.8 436.4C1816.2 435.0 1823.4 434.0 1828.4 433.9C1833.4 433.8 1836.8 434.5 1841.0 435.9C1845.2 437.3 1849.3 440.1 1853.5 442.2C1857.7 444.3 1861.9 446.3 1866.1 448.4C1870.3 450.5 1874.4 453.0 1878.6 454.7C1882.8 456.4 1887.0 457.8 1891.2 458.5C1895.4 459.2 1899.6 459.6 1903.8 459.2C1908.0 458.8 1912.1 457.6 1916.3 456.0C1920.5 454.4 1924.7 451.2 1928.9 449.7C1933.1 448.2 1937.2 448.7 1941.4 447.2C1945.6 445.7 1949.8 443.2 1954.0 440.9C1958.2 438.6 1962.4 435.4 1966.6 433.4C1970.8 431.4 1975.3 429.9 1979.1 429.1C1982.9 428.3 1986.0 428.4 1989.2 428.8C1992.4 429.2 1994.7 430.0 1998.0 431.4C2001.3 432.8 2004.9 435.5 2009.3 437.1C2013.7 438.7 2019.7 439.0 2024.3 440.9C2028.9 442.8 2033.1 445.7 2036.9 448.4C2040.7 451.1 2044.1 454.6 2046.9 457.2C2049.8 459.8 2052.8 462.9 2054.0 464.0" stroke="#5e35b1" stroke-width="2.1" fill="none" stroke-linecap="round"/>
<path d="M520.8 563.0h12M526.8 557.0v12" stroke="#2d2dff" stroke-width="4" fill="none"/>
<path d="M744.7 654.5h12M750.7 648.5v12" stroke="#6b24ff" stroke-width="4" fill="none"/>
<path d="M1259.8 797.5h12M1265.8 791.5v12" stroke="#2d2dff" stroke-width="4" fill="none"/>
<path d="M1462.0 669.6h12M1468.0 663.6v12" stroke="#6b24ff" stroke-width="4" fill="none"/>
<path d="M1347.5 573.9H2507.5M176.6 958H2507.5" stroke="#9c27b0" stroke-width="2" fill="none"/>
<path d="M297 215.3L2507.6 468.8" stroke="#000" stroke-width="2" stroke-linecap="round" fill="none"/>
<path d="M86 1021L894.4 525.1" stroke="#000" stroke-width="3.3" stroke-linecap="round" fill="none"/>
<path d="M1107 971.9L2010 345.5" stroke="#000" stroke-width="2" stroke-linecap="round" fill="none"/>
<path d="M1839.7 529.4L1977.2 381.4" stroke="#000" stroke-width="2" stroke-linecap="round" fill="none"/>
<path d="M2032.5 567.2C2031.5 568.1 2028.3 570.6 2026.8 572.8C2025.3 575.0 2024.4 577.5 2023.7 580.4C2023.0 583.3 2021.2 586.8 2022.4 590.4C2023.6 594.0 2026.3 598.7 2030.6 601.7C2034.9 604.7 2042.3 608.2 2048.2 608.6C2054.1 609.0 2060.6 607.0 2065.8 604.2C2071.0 601.4 2076.5 595.7 2079.6 591.7C2082.7 587.7 2084.4 584.0 2084.6 580.4C2084.8 576.8 2083.5 573.4 2080.8 570.3C2078.1 567.1 2073.7 563.6 2068.3 561.5C2062.9 559.4 2054.5 557.8 2048.2 557.8C2041.9 557.8 2035.4 559.4 2030.6 561.5C2025.8 563.6 2022.0 567.1 2019.3 570.3C2016.6 573.4 2015.0 578.2 2014.3 580.4C2013.6 582.6 2015.1 583.0 2015.3 583.5" stroke="#f23645" stroke-width="3.7" stroke-linecap="round" stroke-linejoin="round" fill="none"/>
<circle cx="1178.5" cy="135.5" r="1.6" fill="#f23645"/>
<rect x="330.1" y="126.2" width="70.8" height="38.7" fill="#c3e3fb"/>
<text x="334.3" y="155.2" font-size="29.5" fill="#e91e63" textLength="59.0" lengthAdjust="spacingAndGlyphs">2001</text>
<rect x="1741.1" y="268.8" width="71.0" height="38.8" fill="#c3e3fb"/>
<text x="1745.4" y="297.8" font-size="29.5" fill="#e91e63" textLength="59.6" lengthAdjust="spacingAndGlyphs">2021</text>
<rect x="1878.4" y="308.4" width="70.6" height="38.6" fill="#c3e3fb"/>
<text x="1882.2" y="337.4" font-size="29.5" fill="#e91e63" textLength="64.0" lengthAdjust="spacingAndGlyphs">2024</text>
<circle cx="2053.4" cy="997.7" r="12.5" fill="#fff"/>
<circle cx="2053.4" cy="997.7" r="10.2" fill="#fff" stroke="#9c27b0" stroke-width="1.6"/>
<path d="M2056.9 992L2049.3 998.1L2053.2 998.1L2050.1 1002.8L2057.8 997L2054 997Z" fill="#9c27b0"/>
</g>
<path d="M0 1012H2560M0 1180.4H2560" stroke="#e6e9f0" stroke-width="2" fill="none"/>
<text class="ax" x="2518" y="6.0">38.00</text>
<text class="ax" x="2518" y="52.8">32.00</text>
<text class="ax" x="2518" y="89.1">28.00</text>
<text class="ax" x="2518" y="131.1">24.00</text>
<text class="ax" x="2518" y="167.5">21.00</text>
<text class="ax" x="2518" y="209.4">18.00</text>
<text class="ax" x="2518" y="241.5">16.00</text>
<text class="ax" x="2518" y="277.9">14.00</text>
<text class="ax" x="2518" y="319.8">12.00</text>
<text class="ax" x="2518" y="356.2">10.50</text>
<text class="ax" x="2518" y="398.2">9.00</text>
<text class="ax" x="2518" y="430.2">8.00</text>
<text class="ax" x="2518" y="466.6">7.00</text>
<text class="ax" x="2518" y="499.7">6.20</text>
<text class="ax" x="2518" y="537.3">5.40</text>
<text class="ax" x="2518" y="569.3">4.80</text>
<text class="ax" x="2518" y="605.7">4.20</text>
<text class="ax" x="2518" y="647.7">3.60</text>
<text class="ax" x="2518" y="679.7">3.20</text>
<text class="ax" x="2518" y="716.1">2.80</text>
<text class="ax" x="2518" y="758.1">2.40</text>
<text class="ax" x="2518" y="794.4">2.10</text>
<text class="ax" x="2518" y="829.0">1.85</text>
<text class="ax" x="2518" y="868.5">1.60</text>
<text class="ax" x="2518" y="904.9">1.40</text>
<text class="ax" x="2518" y="937.9">1.24</text>
<text class="ax" x="2518" y="970.5">1.10</text>
<text class="ax" x="2518" y="1002.0">0.98</text>
<text class="ax" x="2518" y="1041.3">80.00</text>
<text class="ax" x="2518" y="1092.7">60.00</text>
<text class="ax" x="2518" y="1144.0">40.00</text>
<text class="ax" x="2518" y="1198">0.00</text>
<rect x="2424.0" y="532.7" width="83.5" height="19" rx="2" fill="#ef5350"/>
<text x="2428.0" y="546.5" font-size="12" fill="#fff" stroke="#fff" stroke-width="0.3" textLength="74.5" lengthAdjust="spacingAndGlyphs">NDQ/XAUUSD</text>
<rect x="2508.5" y="532.7" width="38.5" height="19" rx="2" fill="#ef5350"/>
<text x="2518.0" y="546.5" font-size="12" font-weight="bold" fill="#fff">5.22</text>
<rect x="2508.5" y="564.2" width="38.5" height="19" rx="2" fill="#9c27b0"/>
<text x="2518.0" y="578.0" font-size="12" font-weight="bold" fill="#fff">4.65</text>
<rect x="2508.5" y="949.4" width="38.5" height="19" rx="2" fill="#9c27b0"/>
<text x="2518.0" y="963.2" font-size="12" font-weight="bold" fill="#fff">1.13</text>
<text class="tm" x="18.5" y="1226.3" textLength="27.7" lengthAdjust="spacingAndGlyphs">1995</text>
<text class="tm" x="84.2" y="1226.3" textLength="27.7" lengthAdjust="spacingAndGlyphs">1996</text>
<text class="tm" x="149.9" y="1226.3" textLength="27.7" lengthAdjust="spacingAndGlyphs">1997</text>
<text class="tm" x="215.5" y="1226.3" textLength="27.7" lengthAdjust="spacingAndGlyphs">1998</text>
<text class="tm" x="281.2" y="1226.3" textLength="27.7" lengthAdjust="spacingAndGlyphs">1999</text>
<text class="tm" x="346.9" y="1226.3" textLength="27.7" lengthAdjust="spacingAndGlyphs">2000</text>
<text class="tm" x="412.6" y="1226.3" textLength="27.7" lengthAdjust="spacingAndGlyphs">2001</text>
<text class="tm" x="478.3" y="1226.3" textLength="27.7" lengthAdjust="spacingAndGlyphs">2002</text>
<text class="tm" x="543.9" y="1226.3" textLength="27.7" lengthAdjust="spacingAndGlyphs">2003</text>
<text class="tm" x="609.6" y="1226.3" textLength="27.7" lengthAdjust="spacingAndGlyphs">2004</text>
<text class="tm" x="675.3" y="1226.3" textLength="27.7" lengthAdjust="spacingAndGlyphs">2005</text>
<text class="tm" x="741.0" y="1226.3" textLength="27.7" lengthAdjust="spacingAndGlyphs">2006</text>
<text class="tm" x="806.7" y="1226.3" textLength="27.7" lengthAdjust="spacingAndGlyphs">2007</text>
<text class="tm" x="872.3" y="1226.3" textLength="27.7" lengthAdjust="spacingAndGlyphs">2008</text>
<text class="tm" x="938.0" y="1226.3" textLength="27.7" lengthAdjust="spacingAndGlyphs">2009</text>
<text class="tm" x="1003.7" y="1226.3" textLength="27.7" lengthAdjust="spacingAndGlyphs">2010</text>
<text class="tm" x="1069.4" y="1226.3" textLength="27.7" lengthAdjust="spacingAndGlyphs">2011</text>
<text class="tm" x="1135.1" y="1226.3" textLength="27.7" lengthAdjust="spacingAndGlyphs">2012</text>
<text class="tm" x="1200.7" y="1226.3" textLength="27.7" lengthAdjust="spacingAndGlyphs">2013</text>
<text class="tm" x="1266.4" y="1226.3" textLength="27.7" lengthAdjust="spacingAndGlyphs">2014</text>
<text class="tm" x="1332.1" y="1226.3" textLength="27.7" lengthAdjust="spacingAndGlyphs">2015</text>
<text class="tm" x="1397.8" y="1226.3" textLength="27.7" lengthAdjust="spacingAndGlyphs">2016</text>
<text class="tm" x="1463.5" y="1226.3" textLength="27.7" lengthAdjust="spacingAndGlyphs">2017</text>
<text class="tm" x="1529.1" y="1226.3" textLength="27.7" lengthAdjust="spacingAndGlyphs">2018</text>
<text class="tm" x="1594.8" y="1226.3" textLength="27.7" lengthAdjust="spacingAndGlyphs">2019</text>
<text class="tm" x="1660.5" y="1226.3" textLength="27.7" lengthAdjust="spacingAndGlyphs">2020</text>
<text class="tm" x="1726.2" y="1226.3" textLength="27.7" lengthAdjust="spacingAndGlyphs">2021</text>
<text class="tm" x="1791.9" y="1226.3" textLength="27.7" lengthAdjust="spacingAndGlyphs">2022</text>
<text class="tm" x="1857.5" y="1226.3" textLength="27.7" lengthAdjust="spacingAndGlyphs">2023</text>
<text class="tm" x="1923.2" y="1226.3" textLength="27.7" lengthAdjust="spacingAndGlyphs">2024</text>
<text class="tm" x="1988.9" y="1226.3" textLength="27.7" lengthAdjust="spacingAndGlyphs">2025</text>
<text class="tm" x="2054.6" y="1226.3" textLength="27.7" lengthAdjust="spacingAndGlyphs">2026</text>
<text class="tm" x="2120.3" y="1226.3" textLength="27.7" lengthAdjust="spacingAndGlyphs">2027</text>
<text class="tm" x="2185.9" y="1226.3" textLength="27.7" lengthAdjust="spacingAndGlyphs">2028</text>
<text class="tm" x="2251.6" y="1226.3" textLength="27.7" lengthAdjust="spacingAndGlyphs">2029</text>
<text class="tm" x="2317.3" y="1226.3" textLength="27.7" lengthAdjust="spacingAndGlyphs">2030</text>
<text class="tm" x="2383.0" y="1226.3" textLength="27.7" lengthAdjust="spacingAndGlyphs">2031</text>
<text class="tm" x="2448.7" y="1226.3" textLength="27.7" lengthAdjust="spacingAndGlyphs">2032</text>
<path d="M2527.9 1221.2L2531.4 1214.9H2539.2L2542.7 1221.2L2539.2 1227.4H2531.4Z" fill="none" stroke="#2a2e39" stroke-width="1.3" stroke-linejoin="round"/><circle cx="2535.2" cy="1221.3" r="2.2" fill="none" stroke="#2a2e39" stroke-width="1.3"/>
<circle cx="16.3" cy="14.4" r="9.5" fill="#2b2b2b"/>
<text x="16.3" y="18.2" font-size="10.5" font-weight="bold" fill="#6d6d6d" text-anchor="middle">N</text>
<text x="30.6" y="20.0" font-size="16.3" fill="#131722" textLength="98.5" lengthAdjust="spacingAndGlyphs">NDQ/XAUUSD</text>
<text x="134.2" y="20.0" font-size="16.3" fill="#131722" textLength="4.0" lengthAdjust="spacingAndGlyphs" font-weight="bold">·</text>
<text x="143.6" y="20.0" font-size="16.3" fill="#131722" textLength="19.0" lengthAdjust="spacingAndGlyphs">1M</text>
<text x="167.4" y="20.0" font-size="16.3" fill="#131722" textLength="4.0" lengthAdjust="spacingAndGlyphs" font-weight="bold">·</text>
<text x="175.8" y="20.0" font-size="16.3" fill="#131722" textLength="28.5" lengthAdjust="spacingAndGlyphs">TVC</text>
<text x="213.7" y="19.2" font-size="13.5" fill="#131722" textLength="263.5" lengthAdjust="spacingAndGlyphs">O<tspan fill="#f23645">5.90</tspan> H<tspan fill="#f23645">5.90</tspan> L<tspan fill="#f23645">4.65</tspan> C<tspan fill="#f23645">5.22 −0.62 (−10.64%)</tspan></text>
<rect x="6.5" y="30.9" width="48" height="34.6" rx="5.5" fill="#fff" stroke="#f23645" stroke-opacity="0.8" stroke-width="1"/>
<text x="18.0" y="45.4" font-size="12.6" fill="#f23645" textLength="26.0" lengthAdjust="spacingAndGlyphs" stroke="#f23645" stroke-width="0.25">5.22</text>
<text x="18.6" y="59.1" font-size="11" fill="#f23645" textLength="24.4" lengthAdjust="spacingAndGlyphs">SELL</text>
<text x="63.5" y="52.2" font-size="11" fill="#131722" textLength="20.5" lengthAdjust="spacingAndGlyphs">0.00</text>
<rect x="92.3" y="30.9" width="48.5" height="34.6" rx="5.5" fill="#fff" stroke="#2962ff" stroke-opacity="0.8" stroke-width="1"/>
<text x="103.7" y="45.4" font-size="12.6" fill="#2962ff" textLength="26.2" lengthAdjust="spacingAndGlyphs" stroke="#2962ff" stroke-width="0.25">5.22</text>
<text x="106.0" y="59.1" font-size="11" fill="#2962ff" textLength="21.0" lengthAdjust="spacingAndGlyphs">BUY</text>
<text x="7.3" y="87.9" font-size="13.5" fill="#bbbcc0" textLength="107.0" lengthAdjust="spacingAndGlyphs">BB 20 SMA close 2</text>
<g fill="none" stroke="#131722" stroke-width="1.15" stroke-linecap="round" stroke-linejoin="round"><path d="M125.2 83.2c3.4-5.6 12.8-5.6 16.2 0c-3.4 5.6-12.8 5.6-16.2 0z"/><path d="M132.7 80.7a2.6 2.6 0 1 0 2.2 1.2"/><path d="M128.0 88.9l10.6-11.4"/></g>
<text x="7.3" y="112.8" font-size="13.5" fill="#bbbcc0" textLength="145.0" lengthAdjust="spacingAndGlyphs">VP 200 500 50 30 2 Both</text>
<g fill="none" stroke="#131722" stroke-width="1.15" stroke-linecap="round" stroke-linejoin="round"><path d="M163.5 108.2c3.4-5.6 12.8-5.6 16.2 0c-3.4 5.6-12.8 5.6-16.2 0z"/><path d="M171.0 105.7a2.6 2.6 0 1 0 2.2 1.2"/><path d="M166.3 113.9l10.6-11.4"/></g>
<text x="7.3" y="137.7" font-size="13.5" fill="#131722" textLength="95.0" lengthAdjust="spacingAndGlyphs">MA Cross 20 100</text>
<text x="111.0" y="137.7" font-size="13.5" fill="#673ab7" textLength="26.0" lengthAdjust="spacingAndGlyphs">6.96</text>
<text x="143.7" y="137.7" font-size="13.5" fill="#ffe83b" textLength="26.0" lengthAdjust="spacingAndGlyphs">6.68</text>
<text x="176.8" y="137.9" font-size="11.8" fill="#131722" textLength="7.8" lengthAdjust="spacingAndGlyphs" font-style="italic">Ø</text>
<text x="7.3" y="162.6" font-size="13.5" fill="#131722" textLength="119.7" lengthAdjust="spacingAndGlyphs">Ichimoku 9 26 52 26</text>
<circle cx="145.2" cy="158.2" r="9.3" fill="#ede7fb"/>
<g fill="none" stroke="#6a3df5" stroke-width="1.9" stroke-linecap="round"><path d="M140.2 157.7a5 5 0 0 1 9-2.5"/><path d="M150.2 158.7a5 5 0 0 1-9 2.5"/></g>
<path d="M147.4 156.0l4 0l0-4z" fill="#6a3df5"/>
<path d="M143.0 160.4l-4 0l0 4z" fill="#6a3df5"/>
<text x="7.3" y="187.5" font-size="13.5" fill="#131722" textLength="95.0" lengthAdjust="spacingAndGlyphs">MA Cross 50 200</text>
<text x="111.0" y="187.5" font-size="13.5" fill="#f23645" textLength="26.0" lengthAdjust="spacingAndGlyphs">7.24</text>
<text x="143.7" y="187.5" font-size="13.5" fill="#2962ff" textLength="26.0" lengthAdjust="spacingAndGlyphs">4.65</text>
<text x="176.8" y="187.5" font-size="11.8" fill="#131722" textLength="7.8" lengthAdjust="spacingAndGlyphs" font-style="italic">Ø</text>
<rect x="6.5" y="199.8" width="29" height="19.5" rx="3" fill="#fff" stroke="#e0e3eb" stroke-width="1"/>
<path d="M17 211.5l4-4l4 4" fill="none" stroke="#131722" stroke-width="1.5"/>
<text x="7.3" y="1034.2" font-size="13.5" fill="#131722" textLength="70.0" lengthAdjust="spacingAndGlyphs">RSI 14 close</text>
<circle cx="95.5" cy="1029.5" r="9.3" fill="#ede7fb"/>
<g fill="none" stroke="#6a3df5" stroke-width="1.9" stroke-linecap="round"><path d="M90.5 1029.0a5 5 0 0 1 9-2.5"/><path d="M100.5 1030.0a5 5 0 0 1-9 2.5"/></g>
<path d="M97.7 1027.3l4 0l0-4z" fill="#6a3df5"/>
<path d="M93.3 1031.7l-4 0l0 4z" fill="#6a3df5"/>
<text x="113.8" y="1034.2" font-size="13.5" fill="#7e57c2" textLength="31.7" lengthAdjust="spacingAndGlyphs">33.26</text>
<text x="153.0" y="1034.2" font-size="13.5" fill="#ffe83b" textLength="33.3" lengthAdjust="spacingAndGlyphs">42.74</text>
<text x="193.3" y="1034.2" font-size="11.5" fill="#131722" font-style="italic" textLength="54" lengthAdjust="spacing">Ø Ø Ø Ø</text>
<text x="7.3" y="1201.8" font-size="13.5" fill="#bbbcc0" textLength="120.0" lengthAdjust="spacingAndGlyphs">Yield Curve (2-10yr)</text>
<g fill="none" stroke="#131722" stroke-width="1.15" stroke-linecap="round" stroke-linejoin="round"><path d="M139.2 1197.4c3.4-5.6 12.8-5.6 16.2 0c-3.4 5.6-12.8 5.6-16.2 0z"/><path d="M146.7 1194.9a2.6 2.6 0 1 0 2.2 1.2"/><path d="M142.0 1203.1l10.6-11.4"/></g>
<path d="M10.2 1181h12.7v3.2h-12.7zM33 1181h7l-1.5 3.2h-7zM26.3 1181h4.4a2.3 1.6 0 0 1-4.4 0z" fill="#0a0a0a"/><path d="M17.2 1184.2h5.7v6.8h-5.7zM31.5 1184.2h7l-3.3 6.8h-6.4z" fill="#8c8c8c"/>
</svg>
</body></html>
